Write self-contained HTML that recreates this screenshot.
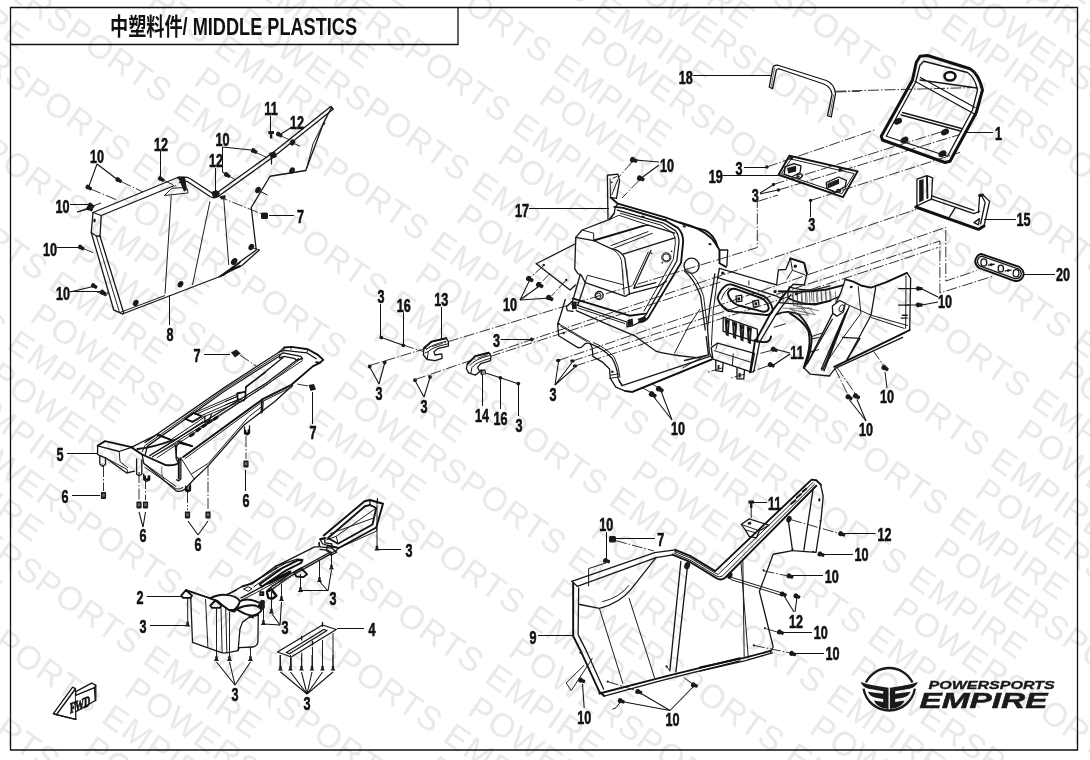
<!DOCTYPE html>
<html lang="zh"><head><meta charset="utf-8"><title>中塑料件/ MIDDLE PLASTICS</title>
<style>
html,body{margin:0;padding:0;background:#fff;}
body{width:1090px;height:760px;overflow:hidden;font-family:"Liberation Sans","Noto Sans CJK SC",sans-serif;}
svg{display:block;filter:grayscale(1)}
path,line,polyline,rect,ellipse,circle{vector-effect:non-scaling-stroke}
.o{fill:none;stroke:#151515;stroke-width:1.3;stroke-linejoin:round;stroke-linecap:round}
.of{fill:#fff;stroke:#151515;stroke-width:1.3;stroke-linejoin:round}
.k{fill:none;stroke:#111;stroke-width:1.9;stroke-linejoin:round;stroke-linecap:round}
.k3{fill:none;stroke:#111;stroke-width:3;stroke-linejoin:round;stroke-linecap:round}
.t{fill:none;stroke:#1c1c1c;stroke-width:1.0;stroke-linejoin:round}
.tt{fill:none;stroke:#3a3a3a;stroke-width:.7}
.c{fill:none;stroke:#1c1c1c;stroke-width:.9;stroke-dasharray:11 2 1.5 2}
.l{fill:none;stroke:#111;stroke-width:1.05}
.b{fill:#1a1a1a;stroke:none}
.f{fill:#1a1a1a;stroke:none}
.g{fill:#777;stroke:none}
.n{font-family:"Liberation Sans",sans-serif;font-weight:700;fill:#111;text-anchor:middle;stroke:#111;stroke-width:.6px}
.wm{font-family:"Liberation Sans",sans-serif;fill:#e9e9e9}
.frame{fill:none;stroke:#111;stroke-width:1.3}
</style></head><body>
<svg width="1090" height="760" viewBox="0 0 1090 760">
<rect width="1090" height="760" fill="#fff"/>
<g class="wm" transform="rotate(34.965)" font-size="33.5">
<text x="-1548.4" y="-905.4" textLength="422.0" lengthAdjust="spacing">POWERSPORTS EMPIRE</text>
<text x="-1249.0" y="-874.4" textLength="422.0" lengthAdjust="spacing">POWERSPORTS EMPIRE</text>
<text x="-964.7" y="-905.4" textLength="422.0" lengthAdjust="spacing">POWERSPORTS EMPIRE</text>
<text x="-666.3" y="-874.4" textLength="422.0" lengthAdjust="spacing">POWERSPORTS EMPIRE</text>
<text x="-381.0" y="-905.4" textLength="422.0" lengthAdjust="spacing">POWERSPORTS EMPIRE</text>
<text x="-83.6" y="-874.4" textLength="422.0" lengthAdjust="spacing">POWERSPORTS EMPIRE</text>
<text x="202.7" y="-905.4" textLength="422.0" lengthAdjust="spacing">POWERSPORTS EMPIRE</text>
<text x="499.1" y="-874.4" textLength="422.0" lengthAdjust="spacing">POWERSPORTS EMPIRE</text>
<text x="786.4" y="-905.4" textLength="422.0" lengthAdjust="spacing">POWERSPORTS EMPIRE</text>
<text x="1081.8" y="-874.4" textLength="422.0" lengthAdjust="spacing">POWERSPORTS EMPIRE</text>
<text x="1370.1" y="-905.4" textLength="422.0" lengthAdjust="spacing">POWERSPORTS EMPIRE</text>
<text x="1664.5" y="-874.4" textLength="422.0" lengthAdjust="spacing">POWERSPORTS EMPIRE</text>
<text x="1953.8" y="-905.4" textLength="422.0" lengthAdjust="spacing">POWERSPORTS EMPIRE</text>
<text x="2247.2" y="-874.4" textLength="422.0" lengthAdjust="spacing">POWERSPORTS EMPIRE</text>
<text x="-1548.2" y="-833.5" textLength="422.0" lengthAdjust="spacing">POWERSPORTS EMPIRE</text>
<text x="-1249.0" y="-802.1" textLength="422.0" lengthAdjust="spacing">POWERSPORTS EMPIRE</text>
<text x="-964.5" y="-833.5" textLength="422.0" lengthAdjust="spacing">POWERSPORTS EMPIRE</text>
<text x="-666.3" y="-802.1" textLength="422.0" lengthAdjust="spacing">POWERSPORTS EMPIRE</text>
<text x="-380.8" y="-833.5" textLength="422.0" lengthAdjust="spacing">POWERSPORTS EMPIRE</text>
<text x="-83.6" y="-802.1" textLength="422.0" lengthAdjust="spacing">POWERSPORTS EMPIRE</text>
<text x="202.9" y="-833.5" textLength="422.0" lengthAdjust="spacing">POWERSPORTS EMPIRE</text>
<text x="499.1" y="-802.1" textLength="422.0" lengthAdjust="spacing">POWERSPORTS EMPIRE</text>
<text x="786.6" y="-833.5" textLength="422.0" lengthAdjust="spacing">POWERSPORTS EMPIRE</text>
<text x="1081.8" y="-802.1" textLength="422.0" lengthAdjust="spacing">POWERSPORTS EMPIRE</text>
<text x="1370.3" y="-833.5" textLength="422.0" lengthAdjust="spacing">POWERSPORTS EMPIRE</text>
<text x="1664.5" y="-802.1" textLength="422.0" lengthAdjust="spacing">POWERSPORTS EMPIRE</text>
<text x="1954.0" y="-833.5" textLength="422.0" lengthAdjust="spacing">POWERSPORTS EMPIRE</text>
<text x="2247.2" y="-802.1" textLength="422.0" lengthAdjust="spacing">POWERSPORTS EMPIRE</text>
<text x="-1547.9" y="-761.5" textLength="422.0" lengthAdjust="spacing">POWERSPORTS EMPIRE</text>
<text x="-1249.1" y="-729.9" textLength="422.0" lengthAdjust="spacing">POWERSPORTS EMPIRE</text>
<text x="-964.2" y="-761.5" textLength="422.0" lengthAdjust="spacing">POWERSPORTS EMPIRE</text>
<text x="-666.4" y="-729.9" textLength="422.0" lengthAdjust="spacing">POWERSPORTS EMPIRE</text>
<text x="-380.5" y="-761.5" textLength="422.0" lengthAdjust="spacing">POWERSPORTS EMPIRE</text>
<text x="-83.7" y="-729.9" textLength="422.0" lengthAdjust="spacing">POWERSPORTS EMPIRE</text>
<text x="203.2" y="-761.5" textLength="422.0" lengthAdjust="spacing">POWERSPORTS EMPIRE</text>
<text x="499.0" y="-729.9" textLength="422.0" lengthAdjust="spacing">POWERSPORTS EMPIRE</text>
<text x="786.9" y="-761.5" textLength="422.0" lengthAdjust="spacing">POWERSPORTS EMPIRE</text>
<text x="1081.7" y="-729.9" textLength="422.0" lengthAdjust="spacing">POWERSPORTS EMPIRE</text>
<text x="1370.6" y="-761.5" textLength="422.0" lengthAdjust="spacing">POWERSPORTS EMPIRE</text>
<text x="1664.4" y="-729.9" textLength="422.0" lengthAdjust="spacing">POWERSPORTS EMPIRE</text>
<text x="1954.3" y="-761.5" textLength="422.0" lengthAdjust="spacing">POWERSPORTS EMPIRE</text>
<text x="2247.1" y="-729.9" textLength="422.0" lengthAdjust="spacing">POWERSPORTS EMPIRE</text>
<text x="-1547.7" y="-689.5" textLength="422.0" lengthAdjust="spacing">POWERSPORTS EMPIRE</text>
<text x="-1249.1" y="-657.6" textLength="422.0" lengthAdjust="spacing">POWERSPORTS EMPIRE</text>
<text x="-964.0" y="-689.5" textLength="422.0" lengthAdjust="spacing">POWERSPORTS EMPIRE</text>
<text x="-666.4" y="-657.6" textLength="422.0" lengthAdjust="spacing">POWERSPORTS EMPIRE</text>
<text x="-380.3" y="-689.5" textLength="422.0" lengthAdjust="spacing">POWERSPORTS EMPIRE</text>
<text x="-83.7" y="-657.6" textLength="422.0" lengthAdjust="spacing">POWERSPORTS EMPIRE</text>
<text x="203.4" y="-689.5" textLength="422.0" lengthAdjust="spacing">POWERSPORTS EMPIRE</text>
<text x="499.0" y="-657.6" textLength="422.0" lengthAdjust="spacing">POWERSPORTS EMPIRE</text>
<text x="787.1" y="-689.5" textLength="422.0" lengthAdjust="spacing">POWERSPORTS EMPIRE</text>
<text x="1081.7" y="-657.6" textLength="422.0" lengthAdjust="spacing">POWERSPORTS EMPIRE</text>
<text x="1370.8" y="-689.5" textLength="422.0" lengthAdjust="spacing">POWERSPORTS EMPIRE</text>
<text x="1664.4" y="-657.6" textLength="422.0" lengthAdjust="spacing">POWERSPORTS EMPIRE</text>
<text x="1954.5" y="-689.5" textLength="422.0" lengthAdjust="spacing">POWERSPORTS EMPIRE</text>
<text x="2247.1" y="-657.6" textLength="422.0" lengthAdjust="spacing">POWERSPORTS EMPIRE</text>
<text x="-1547.4" y="-617.5" textLength="422.0" lengthAdjust="spacing">POWERSPORTS EMPIRE</text>
<text x="-1249.1" y="-585.4" textLength="422.0" lengthAdjust="spacing">POWERSPORTS EMPIRE</text>
<text x="-963.7" y="-617.5" textLength="422.0" lengthAdjust="spacing">POWERSPORTS EMPIRE</text>
<text x="-666.4" y="-585.4" textLength="422.0" lengthAdjust="spacing">POWERSPORTS EMPIRE</text>
<text x="-380.0" y="-617.5" textLength="422.0" lengthAdjust="spacing">POWERSPORTS EMPIRE</text>
<text x="-83.7" y="-585.4" textLength="422.0" lengthAdjust="spacing">POWERSPORTS EMPIRE</text>
<text x="203.7" y="-617.5" textLength="422.0" lengthAdjust="spacing">POWERSPORTS EMPIRE</text>
<text x="499.0" y="-585.4" textLength="422.0" lengthAdjust="spacing">POWERSPORTS EMPIRE</text>
<text x="787.4" y="-617.5" textLength="422.0" lengthAdjust="spacing">POWERSPORTS EMPIRE</text>
<text x="1081.7" y="-585.4" textLength="422.0" lengthAdjust="spacing">POWERSPORTS EMPIRE</text>
<text x="1371.1" y="-617.5" textLength="422.0" lengthAdjust="spacing">POWERSPORTS EMPIRE</text>
<text x="1664.4" y="-585.4" textLength="422.0" lengthAdjust="spacing">POWERSPORTS EMPIRE</text>
<text x="1954.8" y="-617.5" textLength="422.0" lengthAdjust="spacing">POWERSPORTS EMPIRE</text>
<text x="2247.1" y="-585.4" textLength="422.0" lengthAdjust="spacing">POWERSPORTS EMPIRE</text>
<text x="-1547.1" y="-545.6" textLength="422.0" lengthAdjust="spacing">POWERSPORTS EMPIRE</text>
<text x="-1249.1" y="-513.1" textLength="422.0" lengthAdjust="spacing">POWERSPORTS EMPIRE</text>
<text x="-963.4" y="-545.6" textLength="422.0" lengthAdjust="spacing">POWERSPORTS EMPIRE</text>
<text x="-666.4" y="-513.1" textLength="422.0" lengthAdjust="spacing">POWERSPORTS EMPIRE</text>
<text x="-379.7" y="-545.6" textLength="422.0" lengthAdjust="spacing">POWERSPORTS EMPIRE</text>
<text x="-83.7" y="-513.1" textLength="422.0" lengthAdjust="spacing">POWERSPORTS EMPIRE</text>
<text x="204.0" y="-545.6" textLength="422.0" lengthAdjust="spacing">POWERSPORTS EMPIRE</text>
<text x="499.0" y="-513.1" textLength="422.0" lengthAdjust="spacing">POWERSPORTS EMPIRE</text>
<text x="787.7" y="-545.6" textLength="422.0" lengthAdjust="spacing">POWERSPORTS EMPIRE</text>
<text x="1081.7" y="-513.1" textLength="422.0" lengthAdjust="spacing">POWERSPORTS EMPIRE</text>
<text x="1371.4" y="-545.6" textLength="422.0" lengthAdjust="spacing">POWERSPORTS EMPIRE</text>
<text x="1664.4" y="-513.1" textLength="422.0" lengthAdjust="spacing">POWERSPORTS EMPIRE</text>
<text x="1955.1" y="-545.6" textLength="422.0" lengthAdjust="spacing">POWERSPORTS EMPIRE</text>
<text x="2247.1" y="-513.1" textLength="422.0" lengthAdjust="spacing">POWERSPORTS EMPIRE</text>
<text x="-1546.9" y="-473.6" textLength="422.0" lengthAdjust="spacing">POWERSPORTS EMPIRE</text>
<text x="-1249.1" y="-440.9" textLength="422.0" lengthAdjust="spacing">POWERSPORTS EMPIRE</text>
<text x="-963.2" y="-473.6" textLength="422.0" lengthAdjust="spacing">POWERSPORTS EMPIRE</text>
<text x="-666.4" y="-440.9" textLength="422.0" lengthAdjust="spacing">POWERSPORTS EMPIRE</text>
<text x="-379.5" y="-473.6" textLength="422.0" lengthAdjust="spacing">POWERSPORTS EMPIRE</text>
<text x="-83.7" y="-440.9" textLength="422.0" lengthAdjust="spacing">POWERSPORTS EMPIRE</text>
<text x="204.2" y="-473.6" textLength="422.0" lengthAdjust="spacing">POWERSPORTS EMPIRE</text>
<text x="499.0" y="-440.9" textLength="422.0" lengthAdjust="spacing">POWERSPORTS EMPIRE</text>
<text x="787.9" y="-473.6" textLength="422.0" lengthAdjust="spacing">POWERSPORTS EMPIRE</text>
<text x="1081.7" y="-440.9" textLength="422.0" lengthAdjust="spacing">POWERSPORTS EMPIRE</text>
<text x="1371.6" y="-473.6" textLength="422.0" lengthAdjust="spacing">POWERSPORTS EMPIRE</text>
<text x="1664.4" y="-440.9" textLength="422.0" lengthAdjust="spacing">POWERSPORTS EMPIRE</text>
<text x="1955.3" y="-473.6" textLength="422.0" lengthAdjust="spacing">POWERSPORTS EMPIRE</text>
<text x="2247.1" y="-440.9" textLength="422.0" lengthAdjust="spacing">POWERSPORTS EMPIRE</text>
<text x="-1546.6" y="-401.6" textLength="422.0" lengthAdjust="spacing">POWERSPORTS EMPIRE</text>
<text x="-1249.2" y="-368.6" textLength="422.0" lengthAdjust="spacing">POWERSPORTS EMPIRE</text>
<text x="-962.9" y="-401.6" textLength="422.0" lengthAdjust="spacing">POWERSPORTS EMPIRE</text>
<text x="-666.5" y="-368.6" textLength="422.0" lengthAdjust="spacing">POWERSPORTS EMPIRE</text>
<text x="-379.2" y="-401.6" textLength="422.0" lengthAdjust="spacing">POWERSPORTS EMPIRE</text>
<text x="-83.8" y="-368.6" textLength="422.0" lengthAdjust="spacing">POWERSPORTS EMPIRE</text>
<text x="204.5" y="-401.6" textLength="422.0" lengthAdjust="spacing">POWERSPORTS EMPIRE</text>
<text x="498.9" y="-368.6" textLength="422.0" lengthAdjust="spacing">POWERSPORTS EMPIRE</text>
<text x="788.2" y="-401.6" textLength="422.0" lengthAdjust="spacing">POWERSPORTS EMPIRE</text>
<text x="1081.6" y="-368.6" textLength="422.0" lengthAdjust="spacing">POWERSPORTS EMPIRE</text>
<text x="1371.9" y="-401.6" textLength="422.0" lengthAdjust="spacing">POWERSPORTS EMPIRE</text>
<text x="1664.3" y="-368.6" textLength="422.0" lengthAdjust="spacing">POWERSPORTS EMPIRE</text>
<text x="1955.6" y="-401.6" textLength="422.0" lengthAdjust="spacing">POWERSPORTS EMPIRE</text>
<text x="2247.0" y="-368.6" textLength="422.0" lengthAdjust="spacing">POWERSPORTS EMPIRE</text>
<text x="-1546.4" y="-329.7" textLength="422.0" lengthAdjust="spacing">POWERSPORTS EMPIRE</text>
<text x="-1249.2" y="-296.4" textLength="422.0" lengthAdjust="spacing">POWERSPORTS EMPIRE</text>
<text x="-962.7" y="-329.7" textLength="422.0" lengthAdjust="spacing">POWERSPORTS EMPIRE</text>
<text x="-666.5" y="-296.4" textLength="422.0" lengthAdjust="spacing">POWERSPORTS EMPIRE</text>
<text x="-379.0" y="-329.7" textLength="422.0" lengthAdjust="spacing">POWERSPORTS EMPIRE</text>
<text x="-83.8" y="-296.4" textLength="422.0" lengthAdjust="spacing">POWERSPORTS EMPIRE</text>
<text x="204.7" y="-329.7" textLength="422.0" lengthAdjust="spacing">POWERSPORTS EMPIRE</text>
<text x="498.9" y="-296.4" textLength="422.0" lengthAdjust="spacing">POWERSPORTS EMPIRE</text>
<text x="788.4" y="-329.7" textLength="422.0" lengthAdjust="spacing">POWERSPORTS EMPIRE</text>
<text x="1081.6" y="-296.4" textLength="422.0" lengthAdjust="spacing">POWERSPORTS EMPIRE</text>
<text x="1372.1" y="-329.7" textLength="422.0" lengthAdjust="spacing">POWERSPORTS EMPIRE</text>
<text x="1664.3" y="-296.4" textLength="422.0" lengthAdjust="spacing">POWERSPORTS EMPIRE</text>
<text x="1955.8" y="-329.7" textLength="422.0" lengthAdjust="spacing">POWERSPORTS EMPIRE</text>
<text x="2247.0" y="-296.4" textLength="422.0" lengthAdjust="spacing">POWERSPORTS EMPIRE</text>
<text x="-1546.1" y="-257.7" textLength="422.0" lengthAdjust="spacing">POWERSPORTS EMPIRE</text>
<text x="-1249.2" y="-224.1" textLength="422.0" lengthAdjust="spacing">POWERSPORTS EMPIRE</text>
<text x="-962.4" y="-257.7" textLength="422.0" lengthAdjust="spacing">POWERSPORTS EMPIRE</text>
<text x="-666.5" y="-224.1" textLength="422.0" lengthAdjust="spacing">POWERSPORTS EMPIRE</text>
<text x="-378.7" y="-257.7" textLength="422.0" lengthAdjust="spacing">POWERSPORTS EMPIRE</text>
<text x="-83.8" y="-224.1" textLength="422.0" lengthAdjust="spacing">POWERSPORTS EMPIRE</text>
<text x="205.0" y="-257.7" textLength="422.0" lengthAdjust="spacing">POWERSPORTS EMPIRE</text>
<text x="498.9" y="-224.1" textLength="422.0" lengthAdjust="spacing">POWERSPORTS EMPIRE</text>
<text x="788.7" y="-257.7" textLength="422.0" lengthAdjust="spacing">POWERSPORTS EMPIRE</text>
<text x="1081.6" y="-224.1" textLength="422.0" lengthAdjust="spacing">POWERSPORTS EMPIRE</text>
<text x="1372.4" y="-257.7" textLength="422.0" lengthAdjust="spacing">POWERSPORTS EMPIRE</text>
<text x="1664.3" y="-224.1" textLength="422.0" lengthAdjust="spacing">POWERSPORTS EMPIRE</text>
<text x="1956.1" y="-257.7" textLength="422.0" lengthAdjust="spacing">POWERSPORTS EMPIRE</text>
<text x="2247.0" y="-224.1" textLength="422.0" lengthAdjust="spacing">POWERSPORTS EMPIRE</text>
<text x="-1545.8" y="-185.7" textLength="422.0" lengthAdjust="spacing">POWERSPORTS EMPIRE</text>
<text x="-1249.2" y="-151.8" textLength="422.0" lengthAdjust="spacing">POWERSPORTS EMPIRE</text>
<text x="-962.1" y="-185.7" textLength="422.0" lengthAdjust="spacing">POWERSPORTS EMPIRE</text>
<text x="-666.5" y="-151.8" textLength="422.0" lengthAdjust="spacing">POWERSPORTS EMPIRE</text>
<text x="-378.4" y="-185.7" textLength="422.0" lengthAdjust="spacing">POWERSPORTS EMPIRE</text>
<text x="-83.8" y="-151.8" textLength="422.0" lengthAdjust="spacing">POWERSPORTS EMPIRE</text>
<text x="205.3" y="-185.7" textLength="422.0" lengthAdjust="spacing">POWERSPORTS EMPIRE</text>
<text x="498.9" y="-151.8" textLength="422.0" lengthAdjust="spacing">POWERSPORTS EMPIRE</text>
<text x="789.0" y="-185.7" textLength="422.0" lengthAdjust="spacing">POWERSPORTS EMPIRE</text>
<text x="1081.6" y="-151.8" textLength="422.0" lengthAdjust="spacing">POWERSPORTS EMPIRE</text>
<text x="1372.7" y="-185.7" textLength="422.0" lengthAdjust="spacing">POWERSPORTS EMPIRE</text>
<text x="1664.3" y="-151.8" textLength="422.0" lengthAdjust="spacing">POWERSPORTS EMPIRE</text>
<text x="1956.4" y="-185.7" textLength="422.0" lengthAdjust="spacing">POWERSPORTS EMPIRE</text>
<text x="2247.0" y="-151.8" textLength="422.0" lengthAdjust="spacing">POWERSPORTS EMPIRE</text>
<text x="-1545.6" y="-113.8" textLength="422.0" lengthAdjust="spacing">POWERSPORTS EMPIRE</text>
<text x="-1249.2" y="-79.6" textLength="422.0" lengthAdjust="spacing">POWERSPORTS EMPIRE</text>
<text x="-961.9" y="-113.8" textLength="422.0" lengthAdjust="spacing">POWERSPORTS EMPIRE</text>
<text x="-666.5" y="-79.6" textLength="422.0" lengthAdjust="spacing">POWERSPORTS EMPIRE</text>
<text x="-378.2" y="-113.8" textLength="422.0" lengthAdjust="spacing">POWERSPORTS EMPIRE</text>
<text x="-83.8" y="-79.6" textLength="422.0" lengthAdjust="spacing">POWERSPORTS EMPIRE</text>
<text x="205.5" y="-113.8" textLength="422.0" lengthAdjust="spacing">POWERSPORTS EMPIRE</text>
<text x="498.9" y="-79.6" textLength="422.0" lengthAdjust="spacing">POWERSPORTS EMPIRE</text>
<text x="789.2" y="-113.8" textLength="422.0" lengthAdjust="spacing">POWERSPORTS EMPIRE</text>
<text x="1081.6" y="-79.6" textLength="422.0" lengthAdjust="spacing">POWERSPORTS EMPIRE</text>
<text x="1372.9" y="-113.8" textLength="422.0" lengthAdjust="spacing">POWERSPORTS EMPIRE</text>
<text x="1664.3" y="-79.6" textLength="422.0" lengthAdjust="spacing">POWERSPORTS EMPIRE</text>
<text x="1956.6" y="-113.8" textLength="422.0" lengthAdjust="spacing">POWERSPORTS EMPIRE</text>
<text x="2247.0" y="-79.6" textLength="422.0" lengthAdjust="spacing">POWERSPORTS EMPIRE</text>
<text x="-1545.3" y="-41.8" textLength="422.0" lengthAdjust="spacing">POWERSPORTS EMPIRE</text>
<text x="-1249.3" y="-7.3" textLength="422.0" lengthAdjust="spacing">POWERSPORTS EMPIRE</text>
<text x="-961.6" y="-41.8" textLength="422.0" lengthAdjust="spacing">POWERSPORTS EMPIRE</text>
<text x="-666.6" y="-7.3" textLength="422.0" lengthAdjust="spacing">POWERSPORTS EMPIRE</text>
<text x="-377.9" y="-41.8" textLength="422.0" lengthAdjust="spacing">POWERSPORTS EMPIRE</text>
<text x="-83.9" y="-7.3" textLength="422.0" lengthAdjust="spacing">POWERSPORTS EMPIRE</text>
<text x="205.8" y="-41.8" textLength="422.0" lengthAdjust="spacing">POWERSPORTS EMPIRE</text>
<text x="498.8" y="-7.3" textLength="422.0" lengthAdjust="spacing">POWERSPORTS EMPIRE</text>
<text x="789.5" y="-41.8" textLength="422.0" lengthAdjust="spacing">POWERSPORTS EMPIRE</text>
<text x="1081.5" y="-7.3" textLength="422.0" lengthAdjust="spacing">POWERSPORTS EMPIRE</text>
<text x="1373.2" y="-41.8" textLength="422.0" lengthAdjust="spacing">POWERSPORTS EMPIRE</text>
<text x="1664.2" y="-7.3" textLength="422.0" lengthAdjust="spacing">POWERSPORTS EMPIRE</text>
<text x="1956.9" y="-41.8" textLength="422.0" lengthAdjust="spacing">POWERSPORTS EMPIRE</text>
<text x="2246.9" y="-7.3" textLength="422.0" lengthAdjust="spacing">POWERSPORTS EMPIRE</text>
<text x="-1545.1" y="30.2" textLength="422.0" lengthAdjust="spacing">POWERSPORTS EMPIRE</text>
<text x="-1249.3" y="64.9" textLength="422.0" lengthAdjust="spacing">POWERSPORTS EMPIRE</text>
<text x="-961.4" y="30.2" textLength="422.0" lengthAdjust="spacing">POWERSPORTS EMPIRE</text>
<text x="-666.6" y="64.9" textLength="422.0" lengthAdjust="spacing">POWERSPORTS EMPIRE</text>
<text x="-377.7" y="30.2" textLength="422.0" lengthAdjust="spacing">POWERSPORTS EMPIRE</text>
<text x="-83.9" y="64.9" textLength="422.0" lengthAdjust="spacing">POWERSPORTS EMPIRE</text>
<text x="206.0" y="30.2" textLength="422.0" lengthAdjust="spacing">POWERSPORTS EMPIRE</text>
<text x="498.8" y="64.9" textLength="422.0" lengthAdjust="spacing">POWERSPORTS EMPIRE</text>
<text x="789.7" y="30.2" textLength="422.0" lengthAdjust="spacing">POWERSPORTS EMPIRE</text>
<text x="1081.5" y="64.9" textLength="422.0" lengthAdjust="spacing">POWERSPORTS EMPIRE</text>
<text x="1373.4" y="30.2" textLength="422.0" lengthAdjust="spacing">POWERSPORTS EMPIRE</text>
<text x="1664.2" y="64.9" textLength="422.0" lengthAdjust="spacing">POWERSPORTS EMPIRE</text>
<text x="1957.1" y="30.2" textLength="422.0" lengthAdjust="spacing">POWERSPORTS EMPIRE</text>
<text x="2246.9" y="64.9" textLength="422.0" lengthAdjust="spacing">POWERSPORTS EMPIRE</text>
<text x="-1544.8" y="102.2" textLength="422.0" lengthAdjust="spacing">POWERSPORTS EMPIRE</text>
<text x="-1249.3" y="137.2" textLength="422.0" lengthAdjust="spacing">POWERSPORTS EMPIRE</text>
<text x="-961.1" y="102.2" textLength="422.0" lengthAdjust="spacing">POWERSPORTS EMPIRE</text>
<text x="-666.6" y="137.2" textLength="422.0" lengthAdjust="spacing">POWERSPORTS EMPIRE</text>
<text x="-377.4" y="102.2" textLength="422.0" lengthAdjust="spacing">POWERSPORTS EMPIRE</text>
<text x="-83.9" y="137.2" textLength="422.0" lengthAdjust="spacing">POWERSPORTS EMPIRE</text>
<text x="206.3" y="102.2" textLength="422.0" lengthAdjust="spacing">POWERSPORTS EMPIRE</text>
<text x="498.8" y="137.2" textLength="422.0" lengthAdjust="spacing">POWERSPORTS EMPIRE</text>
<text x="790.0" y="102.2" textLength="422.0" lengthAdjust="spacing">POWERSPORTS EMPIRE</text>
<text x="1081.5" y="137.2" textLength="422.0" lengthAdjust="spacing">POWERSPORTS EMPIRE</text>
<text x="1373.7" y="102.2" textLength="422.0" lengthAdjust="spacing">POWERSPORTS EMPIRE</text>
<text x="1664.2" y="137.2" textLength="422.0" lengthAdjust="spacing">POWERSPORTS EMPIRE</text>
<text x="1957.4" y="102.2" textLength="422.0" lengthAdjust="spacing">POWERSPORTS EMPIRE</text>
<text x="2246.9" y="137.2" textLength="422.0" lengthAdjust="spacing">POWERSPORTS EMPIRE</text>
<text x="-1544.5" y="174.1" textLength="422.0" lengthAdjust="spacing">POWERSPORTS EMPIRE</text>
<text x="-1249.3" y="209.4" textLength="422.0" lengthAdjust="spacing">POWERSPORTS EMPIRE</text>
<text x="-960.8" y="174.1" textLength="422.0" lengthAdjust="spacing">POWERSPORTS EMPIRE</text>
<text x="-666.6" y="209.4" textLength="422.0" lengthAdjust="spacing">POWERSPORTS EMPIRE</text>
<text x="-377.1" y="174.1" textLength="422.0" lengthAdjust="spacing">POWERSPORTS EMPIRE</text>
<text x="-83.9" y="209.4" textLength="422.0" lengthAdjust="spacing">POWERSPORTS EMPIRE</text>
<text x="206.6" y="174.1" textLength="422.0" lengthAdjust="spacing">POWERSPORTS EMPIRE</text>
<text x="498.8" y="209.4" textLength="422.0" lengthAdjust="spacing">POWERSPORTS EMPIRE</text>
<text x="790.3" y="174.1" textLength="422.0" lengthAdjust="spacing">POWERSPORTS EMPIRE</text>
<text x="1081.5" y="209.4" textLength="422.0" lengthAdjust="spacing">POWERSPORTS EMPIRE</text>
<text x="1374.0" y="174.1" textLength="422.0" lengthAdjust="spacing">POWERSPORTS EMPIRE</text>
<text x="1664.2" y="209.4" textLength="422.0" lengthAdjust="spacing">POWERSPORTS EMPIRE</text>
<text x="1957.7" y="174.1" textLength="422.0" lengthAdjust="spacing">POWERSPORTS EMPIRE</text>
<text x="2246.9" y="209.4" textLength="422.0" lengthAdjust="spacing">POWERSPORTS EMPIRE</text>
<text x="-1544.3" y="246.1" textLength="422.0" lengthAdjust="spacing">POWERSPORTS EMPIRE</text>
<text x="-1249.3" y="281.6" textLength="422.0" lengthAdjust="spacing">POWERSPORTS EMPIRE</text>
<text x="-960.6" y="246.1" textLength="422.0" lengthAdjust="spacing">POWERSPORTS EMPIRE</text>
<text x="-666.6" y="281.6" textLength="422.0" lengthAdjust="spacing">POWERSPORTS EMPIRE</text>
<text x="-376.9" y="246.1" textLength="422.0" lengthAdjust="spacing">POWERSPORTS EMPIRE</text>
<text x="-83.9" y="281.6" textLength="422.0" lengthAdjust="spacing">POWERSPORTS EMPIRE</text>
<text x="206.8" y="246.1" textLength="422.0" lengthAdjust="spacing">POWERSPORTS EMPIRE</text>
<text x="498.8" y="281.6" textLength="422.0" lengthAdjust="spacing">POWERSPORTS EMPIRE</text>
<text x="790.5" y="246.1" textLength="422.0" lengthAdjust="spacing">POWERSPORTS EMPIRE</text>
<text x="1081.5" y="281.6" textLength="422.0" lengthAdjust="spacing">POWERSPORTS EMPIRE</text>
<text x="1374.2" y="246.1" textLength="422.0" lengthAdjust="spacing">POWERSPORTS EMPIRE</text>
<text x="1664.2" y="281.6" textLength="422.0" lengthAdjust="spacing">POWERSPORTS EMPIRE</text>
<text x="1957.9" y="246.1" textLength="422.0" lengthAdjust="spacing">POWERSPORTS EMPIRE</text>
<text x="2246.9" y="281.6" textLength="422.0" lengthAdjust="spacing">POWERSPORTS EMPIRE</text>
<text x="-1544.0" y="318.1" textLength="422.0" lengthAdjust="spacing">POWERSPORTS EMPIRE</text>
<text x="-1249.4" y="353.9" textLength="422.0" lengthAdjust="spacing">POWERSPORTS EMPIRE</text>
<text x="-960.3" y="318.1" textLength="422.0" lengthAdjust="spacing">POWERSPORTS EMPIRE</text>
<text x="-666.7" y="353.9" textLength="422.0" lengthAdjust="spacing">POWERSPORTS EMPIRE</text>
<text x="-376.6" y="318.1" textLength="422.0" lengthAdjust="spacing">POWERSPORTS EMPIRE</text>
<text x="-84.0" y="353.9" textLength="422.0" lengthAdjust="spacing">POWERSPORTS EMPIRE</text>
<text x="207.1" y="318.1" textLength="422.0" lengthAdjust="spacing">POWERSPORTS EMPIRE</text>
<text x="498.7" y="353.9" textLength="422.0" lengthAdjust="spacing">POWERSPORTS EMPIRE</text>
<text x="790.8" y="318.1" textLength="422.0" lengthAdjust="spacing">POWERSPORTS EMPIRE</text>
<text x="1081.4" y="353.9" textLength="422.0" lengthAdjust="spacing">POWERSPORTS EMPIRE</text>
<text x="1374.5" y="318.1" textLength="422.0" lengthAdjust="spacing">POWERSPORTS EMPIRE</text>
<text x="1664.1" y="353.9" textLength="422.0" lengthAdjust="spacing">POWERSPORTS EMPIRE</text>
<text x="1958.2" y="318.1" textLength="422.0" lengthAdjust="spacing">POWERSPORTS EMPIRE</text>
<text x="2246.8" y="353.9" textLength="422.0" lengthAdjust="spacing">POWERSPORTS EMPIRE</text>
<text x="-1543.8" y="390.0" textLength="422.0" lengthAdjust="spacing">POWERSPORTS EMPIRE</text>
<text x="-1249.4" y="426.1" textLength="422.0" lengthAdjust="spacing">POWERSPORTS EMPIRE</text>
<text x="-960.1" y="390.0" textLength="422.0" lengthAdjust="spacing">POWERSPORTS EMPIRE</text>
<text x="-666.7" y="426.1" textLength="422.0" lengthAdjust="spacing">POWERSPORTS EMPIRE</text>
<text x="-376.4" y="390.0" textLength="422.0" lengthAdjust="spacing">POWERSPORTS EMPIRE</text>
<text x="-84.0" y="426.1" textLength="422.0" lengthAdjust="spacing">POWERSPORTS EMPIRE</text>
<text x="207.3" y="390.0" textLength="422.0" lengthAdjust="spacing">POWERSPORTS EMPIRE</text>
<text x="498.7" y="426.1" textLength="422.0" lengthAdjust="spacing">POWERSPORTS EMPIRE</text>
<text x="791.0" y="390.0" textLength="422.0" lengthAdjust="spacing">POWERSPORTS EMPIRE</text>
<text x="1081.4" y="426.1" textLength="422.0" lengthAdjust="spacing">POWERSPORTS EMPIRE</text>
<text x="1374.7" y="390.0" textLength="422.0" lengthAdjust="spacing">POWERSPORTS EMPIRE</text>
<text x="1664.1" y="426.1" textLength="422.0" lengthAdjust="spacing">POWERSPORTS EMPIRE</text>
<text x="1958.4" y="390.0" textLength="422.0" lengthAdjust="spacing">POWERSPORTS EMPIRE</text>
<text x="2246.8" y="426.1" textLength="422.0" lengthAdjust="spacing">POWERSPORTS EMPIRE</text>
<text x="-1543.5" y="462.0" textLength="422.0" lengthAdjust="spacing">POWERSPORTS EMPIRE</text>
<text x="-1249.4" y="498.4" textLength="422.0" lengthAdjust="spacing">POWERSPORTS EMPIRE</text>
<text x="-959.8" y="462.0" textLength="422.0" lengthAdjust="spacing">POWERSPORTS EMPIRE</text>
<text x="-666.7" y="498.4" textLength="422.0" lengthAdjust="spacing">POWERSPORTS EMPIRE</text>
<text x="-376.1" y="462.0" textLength="422.0" lengthAdjust="spacing">POWERSPORTS EMPIRE</text>
<text x="-84.0" y="498.4" textLength="422.0" lengthAdjust="spacing">POWERSPORTS EMPIRE</text>
<text x="207.6" y="462.0" textLength="422.0" lengthAdjust="spacing">POWERSPORTS EMPIRE</text>
<text x="498.7" y="498.4" textLength="422.0" lengthAdjust="spacing">POWERSPORTS EMPIRE</text>
<text x="791.3" y="462.0" textLength="422.0" lengthAdjust="spacing">POWERSPORTS EMPIRE</text>
<text x="1081.4" y="498.4" textLength="422.0" lengthAdjust="spacing">POWERSPORTS EMPIRE</text>
<text x="1375.0" y="462.0" textLength="422.0" lengthAdjust="spacing">POWERSPORTS EMPIRE</text>
<text x="1664.1" y="498.4" textLength="422.0" lengthAdjust="spacing">POWERSPORTS EMPIRE</text>
<text x="1958.7" y="462.0" textLength="422.0" lengthAdjust="spacing">POWERSPORTS EMPIRE</text>
<text x="2246.8" y="498.4" textLength="422.0" lengthAdjust="spacing">POWERSPORTS EMPIRE</text>
<text x="-1543.2" y="534.0" textLength="422.0" lengthAdjust="spacing">POWERSPORTS EMPIRE</text>
<text x="-1249.4" y="570.6" textLength="422.0" lengthAdjust="spacing">POWERSPORTS EMPIRE</text>
<text x="-959.5" y="534.0" textLength="422.0" lengthAdjust="spacing">POWERSPORTS EMPIRE</text>
<text x="-666.7" y="570.6" textLength="422.0" lengthAdjust="spacing">POWERSPORTS EMPIRE</text>
<text x="-375.8" y="534.0" textLength="422.0" lengthAdjust="spacing">POWERSPORTS EMPIRE</text>
<text x="-84.0" y="570.6" textLength="422.0" lengthAdjust="spacing">POWERSPORTS EMPIRE</text>
<text x="207.9" y="534.0" textLength="422.0" lengthAdjust="spacing">POWERSPORTS EMPIRE</text>
<text x="498.7" y="570.6" textLength="422.0" lengthAdjust="spacing">POWERSPORTS EMPIRE</text>
<text x="791.6" y="534.0" textLength="422.0" lengthAdjust="spacing">POWERSPORTS EMPIRE</text>
<text x="1081.4" y="570.6" textLength="422.0" lengthAdjust="spacing">POWERSPORTS EMPIRE</text>
<text x="1375.3" y="534.0" textLength="422.0" lengthAdjust="spacing">POWERSPORTS EMPIRE</text>
<text x="1664.1" y="570.6" textLength="422.0" lengthAdjust="spacing">POWERSPORTS EMPIRE</text>
<text x="1959.0" y="534.0" textLength="422.0" lengthAdjust="spacing">POWERSPORTS EMPIRE</text>
<text x="2246.8" y="570.6" textLength="422.0" lengthAdjust="spacing">POWERSPORTS EMPIRE</text>
<text x="-1543.0" y="605.9" textLength="422.0" lengthAdjust="spacing">POWERSPORTS EMPIRE</text>
<text x="-1249.4" y="642.9" textLength="422.0" lengthAdjust="spacing">POWERSPORTS EMPIRE</text>
<text x="-959.3" y="605.9" textLength="422.0" lengthAdjust="spacing">POWERSPORTS EMPIRE</text>
<text x="-666.7" y="642.9" textLength="422.0" lengthAdjust="spacing">POWERSPORTS EMPIRE</text>
<text x="-375.6" y="605.9" textLength="422.0" lengthAdjust="spacing">POWERSPORTS EMPIRE</text>
<text x="-84.0" y="642.9" textLength="422.0" lengthAdjust="spacing">POWERSPORTS EMPIRE</text>
<text x="208.1" y="605.9" textLength="422.0" lengthAdjust="spacing">POWERSPORTS EMPIRE</text>
<text x="498.7" y="642.9" textLength="422.0" lengthAdjust="spacing">POWERSPORTS EMPIRE</text>
<text x="791.8" y="605.9" textLength="422.0" lengthAdjust="spacing">POWERSPORTS EMPIRE</text>
<text x="1081.4" y="642.9" textLength="422.0" lengthAdjust="spacing">POWERSPORTS EMPIRE</text>
<text x="1375.5" y="605.9" textLength="422.0" lengthAdjust="spacing">POWERSPORTS EMPIRE</text>
<text x="1664.1" y="642.9" textLength="422.0" lengthAdjust="spacing">POWERSPORTS EMPIRE</text>
<text x="1959.2" y="605.9" textLength="422.0" lengthAdjust="spacing">POWERSPORTS EMPIRE</text>
<text x="2246.8" y="642.9" textLength="422.0" lengthAdjust="spacing">POWERSPORTS EMPIRE</text>
<text x="-1542.7" y="677.9" textLength="422.0" lengthAdjust="spacing">POWERSPORTS EMPIRE</text>
<text x="-1249.5" y="715.1" textLength="422.0" lengthAdjust="spacing">POWERSPORTS EMPIRE</text>
<text x="-959.0" y="677.9" textLength="422.0" lengthAdjust="spacing">POWERSPORTS EMPIRE</text>
<text x="-666.8" y="715.1" textLength="422.0" lengthAdjust="spacing">POWERSPORTS EMPIRE</text>
<text x="-375.3" y="677.9" textLength="422.0" lengthAdjust="spacing">POWERSPORTS EMPIRE</text>
<text x="-84.1" y="715.1" textLength="422.0" lengthAdjust="spacing">POWERSPORTS EMPIRE</text>
<text x="208.4" y="677.9" textLength="422.0" lengthAdjust="spacing">POWERSPORTS EMPIRE</text>
<text x="498.6" y="715.1" textLength="422.0" lengthAdjust="spacing">POWERSPORTS EMPIRE</text>
<text x="792.1" y="677.9" textLength="422.0" lengthAdjust="spacing">POWERSPORTS EMPIRE</text>
<text x="1081.3" y="715.1" textLength="422.0" lengthAdjust="spacing">POWERSPORTS EMPIRE</text>
<text x="1375.8" y="677.9" textLength="422.0" lengthAdjust="spacing">POWERSPORTS EMPIRE</text>
<text x="1664.0" y="715.1" textLength="422.0" lengthAdjust="spacing">POWERSPORTS EMPIRE</text>
<text x="1959.5" y="677.9" textLength="422.0" lengthAdjust="spacing">POWERSPORTS EMPIRE</text>
<text x="2246.7" y="715.1" textLength="422.0" lengthAdjust="spacing">POWERSPORTS EMPIRE</text>
<text x="-1542.5" y="749.9" textLength="422.0" lengthAdjust="spacing">POWERSPORTS EMPIRE</text>
<text x="-1249.5" y="787.4" textLength="422.0" lengthAdjust="spacing">POWERSPORTS EMPIRE</text>
<text x="-958.8" y="749.9" textLength="422.0" lengthAdjust="spacing">POWERSPORTS EMPIRE</text>
<text x="-666.8" y="787.4" textLength="422.0" lengthAdjust="spacing">POWERSPORTS EMPIRE</text>
<text x="-375.1" y="749.9" textLength="422.0" lengthAdjust="spacing">POWERSPORTS EMPIRE</text>
<text x="-84.1" y="787.4" textLength="422.0" lengthAdjust="spacing">POWERSPORTS EMPIRE</text>
<text x="208.6" y="749.9" textLength="422.0" lengthAdjust="spacing">POWERSPORTS EMPIRE</text>
<text x="498.6" y="787.4" textLength="422.0" lengthAdjust="spacing">POWERSPORTS EMPIRE</text>
<text x="792.3" y="749.9" textLength="422.0" lengthAdjust="spacing">POWERSPORTS EMPIRE</text>
<text x="1081.3" y="787.4" textLength="422.0" lengthAdjust="spacing">POWERSPORTS EMPIRE</text>
<text x="1376.0" y="749.9" textLength="422.0" lengthAdjust="spacing">POWERSPORTS EMPIRE</text>
<text x="1664.0" y="787.4" textLength="422.0" lengthAdjust="spacing">POWERSPORTS EMPIRE</text>
<text x="1959.7" y="749.9" textLength="422.0" lengthAdjust="spacing">POWERSPORTS EMPIRE</text>
<text x="2246.7" y="787.4" textLength="422.0" lengthAdjust="spacing">POWERSPORTS EMPIRE</text>
</g>
<g opacity="0.996">
<path class="frame" d="M10.5 7.5H1077.5V750H10.5Z M10.5 44.5H458V7.5"/>
<text x="0" y="0" font-size="24" font-weight="700" fill="#111" style="font-family:'Liberation Sans','Noto Sans CJK SC',sans-serif" transform="translate(110 35) scale(.757 1)">中塑料件/ MIDDLE PLASTICS</text>
<g transform="translate(40 140) scale(0.25000)">
<path class="o" d="M212 290 L555 148 L575 150"/>
<path class="o" d="M245 302 L535 183"/>
<path class="o" d="M212 290 L245 302 L240 385"/>
<path class="o" d="M212 290 L205 370 L225 384 L240 385"/>
<path class="o" d="M205 370 L295 680 L330 696"/>
<path class="t" d="M225 384 L318 690"/>
<path class="o" d="M240 385 L335 692"/>
<path class="t" d="M295 680 L318 690 L330 696"/>
<path class="o" d="M330 696 L735 540"/>
<path class="t" d="M320 690 L500 622"/>
<path class="t" d="M525 222 L500 615"/>
<path class="t" d="M680 245 L610 580"/>
<path class="t" d="M735 235 L755 500"/>
<path class="t" d="M497 222 L528 193 L585 190 M497 222 L592 212 L590 195"/>
<ellipse class="b" cx="218" cy="322" rx="5" ry="8"/>
<ellipse class="b" cx="383" cy="652" rx="10.4" ry="13.75" transform="rotate(30 383 652)"/>
<ellipse class="b" cx="562" cy="577" rx="10.4" ry="13.75" transform="rotate(30 562 577)"/>
<ellipse class="b" cx="775" cy="487" rx="10.4" ry="13.75" transform="rotate(30 775 487)"/>
<path class="o" d="M735 540 L800 490"/>
<path class="k" d="M722 545 L760 520 L800 505"/>
</g>
<g transform="translate(160 90) scale(0.25000)">
<path class="o" d="M72 354 Q100 343 118 353 L205 410 Q218 420 232 408 L452 250 L683 66"/>
<path class="o" d="M78 370 Q100 360 114 369 L200 426 Q220 438 238 422 L457 265 L692 77"/>
<path class="k" d="M685 68 L690 75"/>
<path class="f" d="M72 350 L100 348 L108 400 L96 406 Z"/>
<path class="f" d="M436 252 L460 245 L468 268 L444 276 Z"/>
<path class="o" d="M446 276 L446 296"/>
<path class="o" d="M685 72 L655 130 L583 322"/>
<path class="t" d="M668 105 L612 215 L586 316"/>
<path class="o" d="M583 322 L440 345 L365 470 L385 640 L240 745"/>
<path class="t" d="M655 130 L662 132"/>
<ellipse class="b" cx="655" cy="135" rx="4" ry="6"/>
<ellipse class="b" cx="530" cy="210" rx="10.4" ry="12.5" transform="rotate(30 530 210)"/>
<ellipse class="b" cx="528" cy="322" rx="10.4" ry="13.75" transform="rotate(30 528 322)"/>
<ellipse class="b" cx="392" cy="400" rx="10.4" ry="13.75" transform="rotate(30 392 400)"/>
<ellipse class="b" cx="365" cy="628" rx="10.4" ry="13.75" transform="rotate(30 365 628)"/>
<ellipse class="b" cx="298" cy="685" rx="10.4" ry="13.75" transform="rotate(30 298 685)"/>
<path class="t" d="M538 215 L560 225 M400 405 L430 420 M372 632 L400 640"/>
<path class="o" d="M236 748 L330 700 L395 642"/>
<path class="f" d="M205 408 L225 400 L240 412 L232 428 L212 430 Z"/>
<path class="f" d="M240 425 L262 420 L262 435 L244 438 Z"/>
</g>
<text class="n" transform="translate(97 163.06) scale(0.677 1)" font-size="18.6">10</text>
<text class="n" transform="translate(62.5 212.76) scale(0.677 1)" font-size="18.6">10</text>
<text class="n" transform="translate(50 255.76) scale(0.677 1)" font-size="18.6">10</text>
<text class="n" transform="translate(63 299.56) scale(0.677 1)" font-size="18.6">10</text>
<text class="n" transform="translate(161 150.56) scale(0.677 1)" font-size="18.6">12</text>
<text class="n" transform="translate(216 167.06) scale(0.677 1)" font-size="18.6">12</text>
<text class="n" transform="translate(222.5 146.06) scale(0.677 1)" font-size="18.6">10</text>
<text class="n" transform="translate(271 114.56) scale(0.677 1)" font-size="18.6">11</text>
<text class="n" transform="translate(297 128.56) scale(0.677 1)" font-size="18.6">12</text>
<text class="n" transform="translate(300.5 223.06) scale(0.677 1)" font-size="18.6">7</text>
<text class="n" transform="translate(170 340.56) scale(0.677 1)" font-size="18.6">8</text>
<path class="l" d="M97 164 L89 186"/>
<path class="l" d="M97 164 L118 180"/>
<path class="l" d="M70 204.5 L90 204.5"/>
<path class="l" d="M77 212 L91 208.5"/>
<path class="l" d="M57 247.5 L80 247.5"/>
<path class="l" d="M70 292 L93 286.5"/>
<path class="l" d="M70 291.5 L102 291.5"/>
<path class="l" d="M160.5 151 L160.5 177"/>
<path class="l" d="M215.5 168 L215.5 192"/>
<path class="l" d="M222.5 147 L222.5 172"/>
<path class="l" d="M222.5 147 L251 150"/>
<path class="l" d="M222.5 172 L226 174"/>
<path class="l" d="M270.5 115.5 L270.5 131"/>
<path class="l" d="M292 127 L281 134"/>
<path class="l" d="M294 215.5 L269 215.5"/>
<path class="l" d="M169.5 295 L169.5 325"/>
<g transform="translate(88.5 187.5) rotate(30)"><ellipse class="b" cx="-0.95" cy="0" rx="2.21" ry="2.42"/><rect class="b" x="0" y="-1.68" width="3.57" height="3.36" rx="1.05"/></g>
<g transform="translate(118.5 180) rotate(30)"><ellipse class="b" cx="-0.95" cy="0" rx="2.21" ry="2.42"/><rect class="b" x="0" y="-1.68" width="3.57" height="3.36" rx="1.05"/></g>
<g transform="translate(91 205.5) rotate(30)"><ellipse class="b" cx="-0.95" cy="0" rx="2.21" ry="2.42"/><rect class="b" x="0" y="-1.68" width="3.57" height="3.36" rx="1.05"/></g>
<g transform="translate(89.5 208.5) rotate(30)"><ellipse class="b" cx="-0.95" cy="0" rx="2.21" ry="2.42"/><rect class="b" x="0" y="-1.68" width="3.57" height="3.36" rx="1.05"/></g>
<g transform="translate(81 247.5) rotate(30)"><ellipse class="b" cx="-0.95" cy="0" rx="2.21" ry="2.42"/><rect class="b" x="0" y="-1.68" width="3.57" height="3.36" rx="1.05"/></g>
<g transform="translate(94 286) rotate(30)"><ellipse class="b" cx="-0.95" cy="0" rx="2.21" ry="2.42"/><rect class="b" x="0" y="-1.68" width="3.57" height="3.36" rx="1.05"/></g>
<g transform="translate(103 292.5) rotate(30)"><ellipse class="b" cx="-0.95" cy="0" rx="2.21" ry="2.42"/><rect class="b" x="0" y="-1.68" width="3.57" height="3.36" rx="1.05"/></g>
<g transform="translate(161 179) rotate(30)"><ellipse class="b" cx="-0.95" cy="0" rx="2.21" ry="2.42"/><rect class="b" x="0" y="-1.68" width="3.57" height="3.36" rx="1.05"/></g>
<g transform="translate(254 151) rotate(30)"><ellipse class="b" cx="-0.95" cy="0" rx="2.21" ry="2.42"/><rect class="b" x="0" y="-1.68" width="3.57" height="3.36" rx="1.05"/></g>
<g transform="translate(227 175) rotate(30)"><ellipse class="b" cx="-0.95" cy="0" rx="2.21" ry="2.42"/><rect class="b" x="0" y="-1.68" width="3.57" height="3.36" rx="1.05"/></g>
<g transform="translate(279 134.5) rotate(30)"><ellipse class="b" cx="-0.95" cy="0" rx="2.21" ry="2.42"/><rect class="b" x="0" y="-1.68" width="3.57" height="3.36" rx="1.05"/></g>
<rect class="b" x="261" y="212.5" width="7" height="6.5" rx="1.5"/>
<path class="b" d="M268.3 131h5.6v3h-1.6v4.6h-2.4v-4.6h-1.6z"/>
<path class="c" d="M90.5 189 L117 200"/>
<path class="c" d="M121 181.5 L143 192"/>
<path class="c" d="M83 248.5 L94 253"/>
<path class="c" d="M163 180 L178 187"/>
<path class="c" d="M229 176 L236 180"/>
<path class="c" d="M256 152.5 L268 158"/>
<path class="c" d="M281 136 L290 140"/>
<path class="c" d="M217 196 L262 214"/>
<path class="t" d="M77.5 212 L101 203"/>
<path class="t" d="M97 292 L106 296 L108 292"/>
<path class="k" d="M97.6 445.8L105.0 441.1L132.7 447.4"/>
<path class="o" d="M97.6 445.8L119.2 451.5L131.4 447.4"/>
<path class="o" d="M97.6 445.8L97.6 454.5L99.8 455.6L99.8 464.0L102.6 466.4L105.5 464.5L105.5 457.8"/>
<path class="o" d="M99.8 455.6L105.5 457.8L126.7 473.0L134.5 471.1"/>
<path class="t" d="M119.2 451.5L120.0 461.6L127.9 467.9"/>
<path class="t" d="M107.4 458.8L127.1 469.5L127.6 473.0"/>
<path class="o" d="M136.6 458.8L136.6 474.2L139.3 475.8L141.8 473.9L141.8 460.0"/>
<path class="o" d="M143.7 474.2L143.7 479.8L146.6 481.4L149.7 479.8L149.7 475.8"/>
<path class="k" d="M145.0 476.1L145.0 479.3L148.5 479.3L148.5 476.1"/>
<g transform="translate(90 400) scale(0.15798)">
<ellipse class="g" cx="80" cy="405" rx="4" ry="6"/>
<ellipse class="g" cx="312" cy="462" rx="4" ry="6"/>
<path class="k" d="M262 300 L330 345 L480 412 Q540 418 560 398"/>
<path class="o" d="M330 345 L340 400 L545 575 Q575 585 600 565 L660 500"/>
<path class="t" d="M345 425 L545 562 Q570 570 590 552"/>
<path class="t" d="M340 400 L545 548"/>
<path class="tt" d="M455 420 Q450 480 470 505"/>
<path class="o" d="M548 290 L545 370 L560 400"/>
<path class="o" d="M575 365 L575 500 L560 512 L548 505"/>
<path class="k" d="M562 372 L562 498"/>
<path class="o" d="M548 290 Q560 275 580 272 L640 290"/>
<path class="t" d="M575 365 L640 470 L660 500"/>
<path class="o" d="M605 545 L605 575 L620 582 L636 572 L636 535"/>
<path class="k" d="M612 552 L612 572 L630 572 L630 548"/>
<path class="k" d="M300 310 Q400 300 520 255"/>
<path class="t" d="M430 215 L520 255 L560 240"/>
<path class="k" d="M640 290 L560 262"/>
</g>
<path class="o" d="M131.4 447.4L157.9 434.0L145.0 442.5L225.0 387.1L278.9 352.2L284.2 347.4"/>
<path class="t" d="M142.1 452.1L145.0 445.5L225.0 388.9L279.5 354.0"/>
<path class="o" d="M145.3 454.5L147.4 446.1L225.0 390.7L280.1 355.7"/>
<path class="t" d="M171.1 439.6L205.4 416.5"/>
<path class="t" d="M172.8 441.4L203.1 421.4"/>
<path class="o" d="M178.5 437.9L149.7 455.6L265.0 383.9L298.5 358.7"/>
<path class="t" d="M181.6 440.3L152.1 457.0L265.0 386.3L300.8 358.7L302.6 359.3"/>
<path class="t" d="M156.8 457.9L302.6 360.5"/>
<path class="o" d="M283.1 357.5L246.3 387.1L245.1 391.9L236.8 394.2"/>
<path class="k" d="M183.2 456.9L261.7 399.9"/>
<path class="k" d="M261.7 399.6L291.4 384.8L312.7 366.4L319.8 362.8"/>
<path class="t" d="M184.8 458.8L262.7 401.6"/>
<path class="o" d="M194.3 479.0L207.7 466.4L244.0 425.0L274.8 401.4L292.5 385.4"/>
<path class="t" d="M191.1 474.2L208.5 463.2L248.7 416.8L262.3 406.1"/>
<g transform="translate(145 375) scale(0.11848)">
<path class="k" d="M340 370 L410 320 L480 350 L400 395 Z"/>
<path class="t" d="M410 322 L785 160 M420 336 L790 176 M470 345 L780 210 M490 356 L800 226"/>
<path class="o" d="M780 150 L850 140 L850 200 L800 230 L780 215 Z"/>
<path class="o" d="M850 140 L850 100 L1013 -20"/>
<path class="o" d="M505 345 L505 400 L545 380 L560 330"/>
<path class="k3" d="M383 513 L407 497"/>
<path class="k3" d="M438 470 L462 454"/>
<path class="k3" d="M488 435 L512 419"/>
<path class="k3" d="M533 404 L557 388"/>
<path class="k3" d="M583 374 L607 358"/>
<path class="k" d="M105 505 L215 545"/>
<path class="k" d="M295 575 L400 600"/>
<path class="o" d="M255 590 L265 690 L300 720"/>
<path class="o" d="M840 440 L840 495 L862 505 L882 492 L882 430"/>
<path class="k" d="M848 470 L848 492 L874 492 L874 466"/>
</g>
<g transform="translate(225 335) scale(0.11848)">
<path class="k" d="M500 105 L560 100 L700 120 L780 165 L830 210 L800 235 L770 230"/>
<path class="o" d="M455 145 L500 130 L690 150 L770 200"/>
<path class="o" d="M460 170 L490 150 L640 180 L655 200 L600 215 L590 200 L500 180 L460 195 Z"/>
<path class="t" d="M500 105 L495 130 M560 100 L555 125 M700 120 L690 150"/>
<path class="o" d="M310 545 L305 660 M322 560 L316 650"/>
<path class="t" d="M318 560 L568 438"/>
<path class="tt" d="M318 544 L323 558"/>
<path class="tt" d="M338 534 L343 548"/>
<path class="tt" d="M358 524 L363 538"/>
<path class="tt" d="M378 514 L383 528"/>
<path class="tt" d="M398 504 L403 518"/>
<path class="tt" d="M418 494 L423 508"/>
<path class="tt" d="M438 485 L443 499"/>
<path class="tt" d="M458 475 L463 489"/>
<path class="tt" d="M478 465 L483 479"/>
<path class="tt" d="M498 455 L503 469"/>
<path class="tt" d="M518 445 L523 459"/>
<path class="tt" d="M538 435 L543 449"/>
<path class="tt" d="M558 425 L563 439"/>
<path class="o" d="M100 500 L110 540 L160 555 L172 520 L170 480"/>
<path class="t" d="M0 560 L100 520 M0 590 L120 545"/>
</g>
<text class="n" transform="translate(197 362.06) scale(0.677 1)" font-size="18.6">7</text>
<text class="n" transform="translate(313 439.06) scale(0.677 1)" font-size="18.6">7</text>
<text class="n" transform="translate(60 461.06) scale(0.677 1)" font-size="18.6">5</text>
<text class="n" transform="translate(65 503.06) scale(0.677 1)" font-size="18.6">6</text>
<text class="n" transform="translate(143 542.06) scale(0.677 1)" font-size="18.6">6</text>
<text class="n" transform="translate(198 551.06) scale(0.677 1)" font-size="18.6">6</text>
<text class="n" transform="translate(246 507.06) scale(0.677 1)" font-size="18.6">6</text>
<path class="l" d="M204 354.5 L230 354.5"/>
<path class="l" d="M312.5 424 L312.5 392"/>
<path class="l" d="M67 453.5 L97 453.5"/>
<path class="l" d="M72 495.5 L100 495.5"/>
<path class="l" d="M143 527 L139 512"/>
<path class="l" d="M143 527 L145.5 512"/>
<path class="l" d="M198 535 L188 521"/>
<path class="l" d="M198 535 L208 521"/>
<path class="l" d="M245.5 491 L245.5 470"/>
<path class="b" d="M231 352.5 L236.5 349.5 L240.5 353.5 L235 357.5Z"/>
<path class="b" d="M308.5 385 L314 384 L316 389.5 L310.5 391Z"/>
<path class="c" d="M240 355 L256 366"/>
<path class="c" d="M308 386 L297 384"/>
<rect class="b" x="100.9" y="492.1" width="5.2" height="6.8" rx="0.8"/>
<rect x="102.2" y="493.6" width="2.6" height="3.2" fill="#666"/>
<rect class="b" x="136.4" y="501.6" width="5.2" height="6.8" rx="0.8"/>
<rect x="137.7" y="503.1" width="2.6" height="3.2" fill="#666"/>
<rect class="b" x="142.9" y="501.6" width="5.2" height="6.8" rx="0.8"/>
<rect x="144.2" y="503.1" width="2.6" height="3.2" fill="#666"/>
<rect class="b" x="184.9" y="511.6" width="5.2" height="6.8" rx="0.8"/>
<rect x="186.2" y="513.1" width="2.6" height="3.2" fill="#666"/>
<rect class="b" x="205.4" y="511.6" width="5.2" height="6.8" rx="0.8"/>
<rect x="206.7" y="513.1" width="2.6" height="3.2" fill="#666"/>
<rect class="b" x="243.4" y="460.6" width="5.2" height="6.8" rx="0.8"/>
<rect x="244.7" y="462.1" width="2.6" height="3.2" fill="#666"/>
<path class="c" d="M103.5 466 L103.5 491"/>
<path class="c" d="M139 472 L139 500"/>
<path class="c" d="M145.5 478 L145.5 500"/>
<path class="c" d="M187.5 492 L187.5 510"/>
<path class="c" d="M208 465 L208 510"/>
<path class="c" d="M246 436 L246 459"/>
<g transform="translate(170 570) scale(0.11848)">
<path class="k" d="M95 215 L135 170 L185 215 L175 235 L110 235 Z"/>
<path class="k" d="M135 170 L340 240"/>
<path class="o" d="M175 235 L190 610 L440 700 L480 700 L575 680 L585 655 L700 650 Q735 640 742 610 L745 380"/>
<path class="t" d="M300 245 L320 652"/>
<path class="t" d="M430 300 L440 700"/>
<path class="t" d="M470 310 L480 700"/>
<path class="k" d="M340 300 L385 255 L435 300 L420 320 L355 320 Z"/>
<path class="o" d="M745 380 L660 405 L612 440 L590 500 L575 680"/>
<path class="k" d="M340 240 Q400 205 470 210 Q560 215 590 262 Q580 310 540 335 L500 340 Q440 300 400 262 Z"/>
<path class="k" d="M590 262 Q650 235 720 262 Q775 290 790 262"/>
<path class="k" d="M560 330 Q640 290 720 300 Q775 320 770 345 Q740 380 690 385 L640 372 Q600 355 560 330"/>
<path class="f" d="M770 250 L800 262 L800 320 L770 345 L740 300 Z"/>
<path class="f" d="M650 385 L700 395 L715 410 L680 405 Z"/>
<path class="k" d="M500 340 L545 350 L560 330"/>
<path class="o" d="M500 200 L620 132 L700 110 L900 -20"/>
<path class="o" d="M470 210 Q520 190 560 170"/>
<path class="o" d="M600 235 L720 172 L1013 10"/>
<path class="t" d="M590 262 L730 190 L1013 35"/>
<path class="t" d="M620 160 L660 142 L692 158 L660 180 Z"/>
<path class="t" d="M640 132 L700 100 L980 -60"/>
<path class="o" d="M760 185 L790 185 L790 215 L760 215 Z"/>
<path class="k" d="M818 182 L858 160 L900 215 L872 240 L830 236 Z"/>
<path class="k3" d="M830 110 L1013 20"/>
<path class="t" d="M850 140 L1013 55"/>
</g>
<g transform="translate(230 525) scale(0.11848)">
<path class="o" d="M100 522 L185 497 L375 355 L395 345 L715 185 L750 185 L755 150"/>
<path class="t" d="M200 522 L380 392 L540 310"/>
<path class="o" d="M320 545 L500 418 L540 398 L850 226"/>
<path class="o" d="M330 562 L510 432 L548 412 L858 240"/>
<path class="tt" d="M325 545 L333 559"/>
<path class="tt" d="M345 533 L353 547"/>
<path class="tt" d="M365 520 L373 534"/>
<path class="tt" d="M385 508 L393 522"/>
<path class="tt" d="M405 496 L413 510"/>
<path class="tt" d="M425 484 L433 498"/>
<path class="tt" d="M445 471 L453 485"/>
<path class="tt" d="M465 459 L473 473"/>
<path class="tt" d="M485 447 L493 461"/>
<path class="tt" d="M505 434 L513 448"/>
<path class="tt" d="M525 422 L533 436"/>
<path class="tt" d="M545 410 L553 424"/>
<path class="tt" d="M565 397 L573 411"/>
<path class="tt" d="M585 385 L593 399"/>
<path class="tt" d="M605 373 L613 387"/>
<path class="tt" d="M625 360 L633 374"/>
<path class="tt" d="M645 348 L653 362"/>
<path class="tt" d="M665 336 L673 350"/>
<path class="tt" d="M685 324 L693 338"/>
<path class="tt" d="M705 311 L713 325"/>
<path class="tt" d="M725 299 L733 313"/>
<path class="tt" d="M745 287 L753 301"/>
<path class="tt" d="M765 274 L773 288"/>
<path class="tt" d="M785 262 L793 276"/>
<path class="tt" d="M805 250 L813 264"/>
<path class="tt" d="M825 238 L833 252"/>
<path class="tt" d="M845 225 L853 239"/>
<path class="k" d="M250 500 L440 365 L580 295 L610 300 L600 320 L470 385 L270 520 Z"/>
<path class="o" d="M380 350 L570 288 L615 292"/>
<path class="k" d="M540 400 L600 365 L650 415 L620 440 L560 435 Z"/>
<path class="k" d="M310 560 L345 545 L390 600 L350 625 L320 610 Z"/>
<path class="o" d="M750 150 L760 185 L860 195 L900 230 L860 250 L830 215 L760 205"/>
<path class="o" d="M800 110 L800 150 L860 160 L860 195"/>
<path class="k" d="M760 120 L800 110"/>
<path class="o" d="M258 570 L275 570 L275 590 L258 590 Z"/>
</g>
<g transform="translate(240 480) scale(0.25000)">
<path class="o" d="M345 282 L350 262 L330 255 L322 240 L345 232"/>
<path class="k" d="M335 222 L498 85 L520 80 L572 95 L545 190 L395 272 L350 262"/>
<path class="k" d="M352 232 L500 105 L520 100 L545 112 L530 178 L392 255 Z"/>
<path class="t" d="M345 240 L385 225 L392 255 M385 225 L545 112"/>
<path class="t" d="M360 215 L540 150 M395 272 L545 205 L548 190"/>
<path class="o" d="M520 80 L520 100 M550 75 L548 95"/>
<path class="o" d="M345 282 L362 292 L382 285 L395 272"/>
<path class="o" d="M362 292 L362 300"/>
</g>
<g transform="translate(240 480) scale(0.25000)">
<path class="o" d="M150 688 L330 580 L385 598 L205 708 Z"/>
<path class="o" d="M185 690 L335 598 L348 602 L198 695 Z"/>
<path class="t" d="M160 700 L160 745"/>
<path class="t" d="M205 712 L205 745"/>
<path class="t" d="M247 690 L247 745"/>
<path class="t" d="M290 668 L290 745"/>
<path class="t" d="M330 640 L330 745"/>
<path class="t" d="M372 612 L372 745"/>
<path class="o" d="M247 625 L247 640 M330 570 L330 585 M290 645 L290 660"/>
</g>
<text class="n" transform="translate(140 604.06) scale(0.677 1)" font-size="18.6">2</text>
<text class="n" transform="translate(143 633.06) scale(0.677 1)" font-size="18.6">3</text>
<text class="n" transform="translate(235 701.06) scale(0.677 1)" font-size="18.6">3</text>
<text class="n" transform="translate(285 634.06) scale(0.677 1)" font-size="18.6">3</text>
<text class="n" transform="translate(333 605.06) scale(0.677 1)" font-size="18.6">3</text>
<text class="n" transform="translate(409 557.06) scale(0.677 1)" font-size="18.6">3</text>
<text class="n" transform="translate(372 636.06) scale(0.677 1)" font-size="18.6">4</text>
<text class="n" transform="translate(307 710.06) scale(0.677 1)" font-size="18.6">3</text>
<path class="l" d="M147 596.5 L181 596.5"/>
<path class="l" d="M150 625.5 L186 625.5"/>
<path class="l" d="M401 549.5 L378 549.5"/>
<path class="l" d="M364 628.5 L337 628.5"/>
<path class="l" d="M235 685 L216.5 662"/>
<path class="l" d="M235 685 L229.5 662"/>
<path class="l" d="M235 685 L250.5 662"/>
<path class="l" d="M280 625 L264 624"/>
<path class="l" d="M280 625 L272 614"/>
<path class="l" d="M280 625 L281.5 602"/>
<path class="l" d="M328 590.5 L301 590.5"/>
<path class="l" d="M328 591 L320 582"/>
<path class="l" d="M328 591 L331.5 570"/>
<path class="l" d="M307 694 L280.5 672"/>
<path class="b" d="M279.3 666.0h2.4v2.4l1.2 2.0h-4.8l1.2 -2.0z"/>
<path class="t" d="M280.5 655 L280.5 666"/>
<path class="l" d="M307 694 L290.5 672"/>
<path class="b" d="M289.3 666.0h2.4v2.4l1.2 2.0h-4.8l1.2 -2.0z"/>
<path class="t" d="M290.5 655 L290.5 666"/>
<path class="l" d="M307 694 L301.5 672"/>
<path class="b" d="M300.3 666.0h2.4v2.4l1.2 2.0h-4.8l1.2 -2.0z"/>
<path class="t" d="M301.5 655 L301.5 666"/>
<path class="l" d="M307 694 L312 672"/>
<path class="b" d="M310.8 666.0h2.4v2.4l1.2 2.0h-4.8l1.2 -2.0z"/>
<path class="t" d="M312 655 L312 666"/>
<path class="l" d="M307 694 L322.5 672"/>
<path class="b" d="M321.3 666.0h2.4v2.4l1.2 2.0h-4.8l1.2 -2.0z"/>
<path class="t" d="M322.5 655 L322.5 666"/>
<path class="l" d="M307 694 L333 672"/>
<path class="b" d="M331.8 666.0h2.4v2.4l1.2 2.0h-4.8l1.2 -2.0z"/>
<path class="t" d="M333 655 L333 666"/>
<path class="b" d="M186.4 621.8h2.5v2.5l1.3 2.1h-5.1l1.3 -2.1z"/>
<path class="b" d="M215.2 656.3h2.5v2.5l1.3 2.1h-5.1l1.3 -2.1z"/>
<path class="b" d="M228.2 656.3h2.5v2.5l1.3 2.1h-5.1l1.3 -2.1z"/>
<path class="b" d="M249.2 656.3h2.5v2.5l1.3 2.1h-5.1l1.3 -2.1z"/>
<path class="b" d="M262.2 620.3h2.5v2.5l1.3 2.1h-5.1l1.3 -2.1z"/>
<path class="b" d="M270.2 608.8h2.5v2.5l1.3 2.1h-5.1l1.3 -2.1z"/>
<path class="b" d="M280.2 596.3h2.5v2.5l1.3 2.1h-5.1l1.3 -2.1z"/>
<path class="b" d="M299.2 587.3h2.5v2.5l1.3 2.1h-5.1l1.3 -2.1z"/>
<path class="b" d="M318.2 577.3h2.5v2.5l1.3 2.1h-5.1l1.3 -2.1z"/>
<path class="b" d="M330.2 564.8h2.5v2.5l1.3 2.1h-5.1l1.3 -2.1z"/>
<path class="b" d="M375.7 545.8h2.5v2.5l1.3 2.1h-5.1l1.3 -2.1z"/>
<path class="t" d="M187.7 598 L187.7 622"/>
<path class="t" d="M216.5 608 L216.5 657"/>
<path class="t" d="M229.5 612 L229.5 657"/>
<path class="t" d="M250.5 647 L250.5 657"/>
<path class="t" d="M263.5 606 L263.5 621"/>
<path class="t" d="M271.5 592 L271.5 610"/>
<path class="t" d="M281.5 584 L281.5 597"/>
<path class="t" d="M300.5 574 L300.5 588"/>
<path class="t" d="M319.5 560 L319.5 578"/>
<path class="t" d="M331.5 552 L331.5 565"/>
<path class="t" d="M377 505 L377 546"/>
<g transform="translate(350 270) scale(0.22371)">
<path class="of" d="M330 350 L365 320 L430 305 L440 320 L440 340 L395 350 L375 365 L380 380 L410 375 L412 395 L380 405 L345 400 L328 380 Z"/>
<path class="k" d="M330 350 L365 320 L430 305"/>
<path class="t" d="M340 356 Q360 335 432 318 M350 364 Q368 345 438 330 M334 372 L350 364 M345 400 L350 364"/>
<path class="of" d="M525 420 L560 385 L620 370 L630 385 L628 405 L585 418 L570 435 L580 455 L560 470 L530 460 L520 440 Z"/>
<path class="k" d="M525 420 L560 385 L620 370"/>
<path class="t" d="M535 428 Q555 400 624 382 M545 436 Q562 412 628 395 M540 462 L545 436"/>
<path class="f" d="M580 445 L605 445 L610 465 L585 470 Z"/>
<ellipse cx="597" cy="458" rx="7" ry="9" fill="#999"/>
<path class="l" d="M140 302 L238 336"/>
<path class="c" d="M238 336 L330 365"/>
<path class="l" d="M610 462 L672 482 L752 508"/>
</g>
<text class="n" transform="translate(381 303.06) scale(0.677 1)" font-size="18.6">3</text>
<text class="n" transform="translate(403.7 311.56) scale(0.677 1)" font-size="18.6">16</text>
<text class="n" transform="translate(441.3 306.06) scale(0.677 1)" font-size="18.6">13</text>
<text class="n" transform="translate(379 400.06) scale(0.677 1)" font-size="18.6">3</text>
<text class="n" transform="translate(424 412.56) scale(0.677 1)" font-size="18.6">3</text>
<text class="n" transform="translate(482 422.06) scale(0.677 1)" font-size="18.6">14</text>
<text class="n" transform="translate(500.5 425.06) scale(0.677 1)" font-size="18.6">16</text>
<text class="n" transform="translate(519 431.56) scale(0.677 1)" font-size="18.6">3</text>
<text class="n" transform="translate(496.5 347.06) scale(0.677 1)" font-size="18.6">3</text>
<text class="n" transform="translate(510 310.56) scale(0.677 1)" font-size="18.6">10</text>
<path class="l" d="M380.5 304 L380.5 337"/>
<path class="l" d="M403.5 312.5 L403.5 344"/>
<path class="l" d="M441.5 307 L441.5 339"/>
<path class="l" d="M379 384 L369.7 367"/>
<path class="l" d="M379 384 L384.7 363"/>
<path class="l" d="M424 397 L415 380.5"/>
<path class="l" d="M424 397 L430 377.5"/>
<path class="l" d="M482.5 375 L482.5 406"/>
<path class="l" d="M500.5 378 L500.5 409"/>
<path class="l" d="M518.5 384 L518.5 416"/>
<path class="l" d="M500.5 339.5 L531 339.5"/>
<path class="l" d="M520 300 L530 279.5"/>
<path class="l" d="M520 300 L540 285.5"/>
<path class="l" d="M520 300 L550 298"/>
<circle class="b" cx="381.3" cy="337.6" r="1.9"/>
<circle class="b" cx="403.3" cy="345.3" r="1.9"/>
<circle class="b" cx="369.7" cy="366.5" r="1.9"/>
<circle class="b" cx="384.7" cy="362.5" r="1.9"/>
<circle class="b" cx="415" cy="380.2" r="1.9"/>
<circle class="b" cx="430" cy="377" r="1.9"/>
<circle class="b" cx="500.3" cy="377.8" r="1.9"/>
<circle class="b" cx="518.3" cy="383.6" r="1.9"/>
<circle class="b" cx="531.7" cy="339.5" r="1.9"/>
<g transform="translate(529.5 279) rotate(30)"><ellipse class="b" cx="-1.08" cy="0" rx="2.52" ry="2.76"/><rect class="b" x="0" y="-1.92" width="4.08" height="3.84" rx="1.20"/></g>
<g transform="translate(539.5 285) rotate(30)"><ellipse class="b" cx="-1.08" cy="0" rx="2.52" ry="2.76"/><rect class="b" x="0" y="-1.92" width="4.08" height="3.84" rx="1.20"/></g>
<g transform="translate(549.5 298) rotate(30)"><ellipse class="b" cx="-1.08" cy="0" rx="2.52" ry="2.76"/><rect class="b" x="0" y="-1.92" width="4.08" height="3.84" rx="1.20"/></g>
<g transform="translate(560 170) scale(0.21053)">
<path class="o" d="M225 25 L228 232 M225 25 L275 20 L283 52 L268 135 L240 130"/>
<path class="t" d="M238 40 L240 128 M250 40 L272 30 M245 120 L275 45"/>
<ellipse class="b" cx="246" cy="58" rx="4" ry="5"/>
<path class="k" d="M240 130 L275 160 L500 225 L600 262 L690 287 Q735 310 748 365"/>
<path class="k" d="M258 175 L300 180 L500 240 L560 275 Q585 300 585 340 L575 440 L420 700 Q400 725 375 722"/>
<path class="o" d="M272 190 L490 252 L548 288 Q566 310 565 345 L555 432 L408 688 Q395 705 380 708"/>
<path class="t" d="M285 205 L480 262 L535 298 Q550 315 548 345 L538 425 L398 672"/>
<path class="o" d="M275 160 L262 178 L258 205 L235 235"/>
<ellipse class="b" cx="395" cy="222" rx="8" ry="5" transform="rotate(20 395 222)"/>
<ellipse class="b" cx="500" cy="238" rx="8" ry="5" transform="rotate(20 500 238)"/>
<ellipse class="b" cx="590" cy="268" rx="8" ry="5" transform="rotate(20 590 268)"/>
<ellipse class="b" cx="712" cy="352" rx="8" ry="5" transform="rotate(20 712 352)"/>
<path class="o" d="M75 320 L105 285 L235 235 L258 205"/>
<path class="o" d="M75 320 L70 470 L85 492 L100 498 L120 535 L310 600 L330 588"/>
<path class="o" d="M75 320 L160 335 L240 372 Q290 380 308 420 L330 588"/>
<path class="t" d="M240 372 Q280 390 292 430 L305 592"/>
<path class="tt" d="M298 470 L300 520 M318 470 L322 540"/>
<path class="k" d="M160 335 L395 265"/>
<path class="t" d="M105 285 L160 300 L160 335"/>
<path class="t" d="M240 360 L420 292 M255 372 L440 300"/>
<path class="o" d="M395 265 L420 262 L545 300"/>
<path class="t" d="M235 235 L280 215 L420 262"/>
<path class="o" d="M300 400 L545 322"/>
<path class="o" d="M330 588 L470 552 L505 528"/>
<path class="t" d="M120 535 L130 500 L300 545"/>
<path class="o" d="M432 382 L350 562 L455 535"/>
<path class="t" d="M420 388 L345 548"/>
<circle class="t" cx="505" cy="415" r="22"/><circle class="t" cx="505" cy="415" r="17"/>
<circle class="b" cx="435" cy="396" r="4"/>
<circle class="b" cx="362" cy="556" r="4"/>
<circle class="b" cx="486" cy="440" r="4"/>
<circle class="b" cx="530" cy="386" r="4"/>
<circle class="o" cx="625" cy="455" r="36"/>
<path class="o" d="M590 478 Q640 520 668 600 L690 760"/>
<path class="t" d="M600 470 Q655 515 682 600 L702 760"/>
<path class="o" d="M95 500 L60 622 L30 650 L35 668 L62 672"/>
<path class="o" d="M120 535 L85 640"/>
<path class="k" d="M60 610 L330 692 L405 682"/>
<path class="o" d="M80 642 L318 722 L318 745 L345 740 L400 712"/>
<path class="t" d="M85 655 L310 730"/>
<circle class="o" cx="186" cy="596" r="19"/><circle class="t" cx="182" cy="598" r="13"/>
<path class="f" d="M55 625 L78 625 L80 660 L58 662 Z"/>
<path class="f" d="M320 712 L345 705 L348 738 L322 742 Z"/>
<path class="f" d="M368 708 L405 695 L412 712 L380 725 Z"/>
</g>
<g transform="translate(690 250) scale(0.18416)">
<path class="k" d="M-55 -150 Q60 -120 120 -60 Q150 -20 160 0 L160 72 L195 92"/>
<path class="o" d="M205 0 L200 86 M160 0 L205 0"/>
<path class="o" d="M160 100 L470 190 L480 108 L520 106 L545 45 L620 70 L635 130 L620 190 L560 186 L520 232 L490 262"/>
<path class="o" d="M150 150 L470 250 L490 262"/>
<path class="o" d="M160 100 L150 150"/>
<path class="t" d="M545 45 L556 110 L525 160 M556 110 L625 135"/>
<path class="k" d="M545 45 L620 70 L635 130"/>
<path class="t" d="M320 166 L320 192"/>
<circle class="b" cx="178" cy="126" r="9"/>
<circle class="b" cx="462" cy="226" r="9"/>
<circle class="b" cx="572" cy="88" r="9"/>
<circle class="b" cx="578" cy="238" r="9"/>
<path class="o" d="M135 130 L110 290 L95 420 L105 560 L122 592"/>
<path class="t" d="M150 150 L126 330 L116 520"/>
<path class="k" d="M150 262 Q160 215 200 190 Q215 183 240 192 L400 250 Q440 275 450 325 Q440 358 405 352 L210 332 Q165 310 150 262 Z"/>
<path class="k" d="M205 235 Q215 205 250 212 L390 262 Q425 285 428 318 Q420 338 395 335 L260 300 Q215 280 205 235 Z"/>
<path class="t" d="M170 270 Q185 225 215 205 M160 290 Q200 325 250 338"/>
<path class="o" d="M250 250 L280 245 L282 278 L252 282 Z M340 278 L372 272 L375 305 L345 310 Z"/>
<path class="f" d="M258 258 L272 258 L272 274 L258 274 Z M350 284 L365 284 L365 300 L350 300 Z"/>
<path class="o" d="M180 365 L365 430 L368 500 L180 442 Z"/>
<path class="f" d="M188 372 L216 382 L210 470 L194 462 Z"/>
<path class="of" d="M198 392 L208 396 L205 450 L198 446 Z"/>
<path class="f" d="M228 386 L256 396 L250 484 L234 476 Z"/>
<path class="of" d="M238 406 L248 410 L245 464 L238 460 Z"/>
<path class="f" d="M268 400 L296 410 L290 498 L274 490 Z"/>
<path class="of" d="M278 420 L288 424 L285 478 L278 474 Z"/>
<path class="f" d="M308 414 L336 424 L330 512 L314 504 Z"/>
<path class="of" d="M318 434 L328 438 L325 492 L318 488 Z"/>
<path class="o" d="M115 530 L150 505 L350 562 L330 662 L125 592 Z"/>
<path class="t" d="M130 546 L338 612 M235 562 L230 626 M150 505 L140 540"/>
<path class="o" d="M140 600 L140 655 L176 660 L180 612 M255 640 L255 700 L292 700 L296 650"/>
<path class="f" d="M150 625 L160 625 L160 648 L150 648 Z M264 668 L275 668 L275 692 L264 692 Z"/>
<path class="k" d="M520 232 L440 340 L352 500 L326 665"/>
<path class="o" d="M548 242 L466 352 L378 500 L346 660"/>
<path class="k" d="M350 490 Q390 505 420 498 Q438 488 440 470"/>
<path class="o" d="M326 665 L346 660"/>
<path class="k" d="M470 350 Q530 322 590 350 Q640 395 660 470 Q665 540 620 640"/>
<path class="t" d="M455 420 L520 400 M640 560 L700 540 M660 470 L720 450"/>
<path class="o" d="M540 200 Q600 222 680 215 L760 195"/>
<path class="k" d="M535 262 Q600 295 680 296 L760 276"/>
<path class="o" d="M540 200 Q525 230 535 262"/>
<path class="tt" d="M560 222 L563 305"/>
<path class="tt" d="M582 221 L585 303"/>
<path class="tt" d="M604 220 L607 301"/>
<path class="tt" d="M626 219 L629 300"/>
<path class="tt" d="M648 218 L651 288"/>
<path class="tt" d="M670 218 L673 286"/>
<path class="tt" d="M692 217 L695 284"/>
<path class="tt" d="M714 216 L717 283"/>
<path class="tt" d="M736 215 L739 281"/>
<path class="tt" d="M758 214 L761 279"/>
<path class="tt" d="M560 300 L700 330 M540 320 L680 352 M600 300 L640 345 M640 310 L680 352"/>
<path class="o" d="M88 470 L100 570 L-30 600"/>
<path class="t" d="M100 570 L60 585 L-40 640"/>
</g>
<text class="n" transform="translate(797 358.56) scale(0.677 1)" font-size="18.6">11</text>
<path class="l" d="M790 353 L776.5 349.5"/>
<path class="l" d="M790 354 L773.5 365"/>
<g transform="translate(774 349.5) rotate(20)"><ellipse class="b" cx="-0.99" cy="0" rx="2.31" ry="2.53"/><rect class="b" x="0" y="-1.76" width="3.74" height="3.52" rx="1.10"/></g>
<g transform="translate(771 365) rotate(20)"><ellipse class="b" cx="-0.99" cy="0" rx="2.31" ry="2.53"/><rect class="b" x="0" y="-1.76" width="3.74" height="3.52" rx="1.10"/></g>
<path class="c" d="M771 350.5 L758 354"/>
<path class="c" d="M768 366 L750 372"/>
<path class="c" d="M745 374 L731 378"/>
<path class="c" d="M722 368 L708 372"/>
<g transform="translate(540 290) scale(0.15798)">
<path class="o" d="M160 60 L130 160 L112 215 L118 290 L240 365 Q262 368 275 350 Q290 330 318 340 L330 365 L335 420 L400 460 L440 500 L445 560 L480 615 L540 640 L585 645 L1085 440"/>
<path class="k" d="M540 640 L585 645 L1085 440"/>
<path class="o" d="M500 575 L520 605 L1075 420"/>
<path class="o" d="M318 340 Q400 372 455 430 Q490 490 495 560 L520 605"/>
<path class="t" d="M335 332 Q412 362 470 425 Q502 490 506 555"/>
<path class="t" d="M120 215 L320 332 M128 228 L300 328"/>
<path class="o" d="M230 130 L420 215 L600 290 Q660 335 730 385 Q800 410 1013 430"/>
<path class="t" d="M1013 120 L940 230 L850 402"/>
<path class="t" d="M445 540 L500 530 M440 560 L500 550"/>
<circle class="b" cx="118" cy="215" r="8"/>
<circle class="b" cx="150" cy="272" r="8"/>
<circle class="b" cx="458" cy="518" r="8"/>
</g>
<text class="n" transform="translate(553 401.06) scale(0.677 1)" font-size="18.6">3</text>
<text class="n" transform="translate(678 435.06) scale(0.677 1)" font-size="18.6">10</text>
<path class="l" d="M555 385 L558.5 362"/>
<path class="l" d="M555 385 L572 362.5"/>
<path class="l" d="M555 385 L574.5 367.5"/>
<ellipse class="b" cx="558.2" cy="360.5" rx="2.3" ry="1.8"/>
<ellipse class="b" cx="572.4" cy="361" rx="2.3" ry="1.8"/>
<ellipse class="b" cx="575" cy="366" rx="2.3" ry="1.8"/>
<path class="l" d="M672 420 L653.5 396.5"/>
<path class="l" d="M672 420 L661 391"/>
<g transform="translate(652.5 394.5) rotate(30)"><ellipse class="b" cx="-1.12" cy="0" rx="2.62" ry="2.88"/><rect class="b" x="0" y="-2.00" width="4.25" height="4.00" rx="1.25"/></g>
<g transform="translate(659.6 389.2) rotate(30)"><ellipse class="b" cx="-1.12" cy="0" rx="2.62" ry="2.88"/><rect class="b" x="0" y="-2.00" width="4.25" height="4.00" rx="1.25"/></g>
<path class="c" d="M650 392 L641 387"/>
<path class="c" d="M657 387 L651 383"/>
<g transform="translate(790 260) scale(0.18416)">
<path class="k" d="M300 105 L340 116 L390 140 L440 150 L520 122 L635 70"/>
<path class="o" d="M300 105 L275 180 L250 230"/>
<path class="o" d="M635 70 L655 100 L650 380 L600 405"/>
<path class="t" d="M630 85 L628 372"/>
<path class="o" d="M590 155 L650 155 M590 245 L650 245 M610 300 L636 300 M604 316 L636 316"/>
<path class="k" d="M240 580 L600 405 L650 380"/>
<path class="o" d="M215 628 L245 588 L612 420"/>
<path class="o" d="M75 585 L110 620 L215 630"/>
<path class="o" d="M75 585 L95 560 L230 322"/>
<path class="o" d="M230 250 L270 220 L300 235 L290 282 L255 305 L232 290 Z"/>
<ellipse class="t" cx="280" cy="262" rx="12" ry="20" transform="rotate(25 280 262)"/>
<path class="o" d="M232 290 L95 560 M300 290 L170 592 M322 250 L185 602 M312 270 L178 598"/>
<path class="t" d="M370 142 L385 290 L290 420 L170 600"/>
<path class="o" d="M465 150 L440 300 L310 540"/>
<path class="t" d="M300 236 L440 300 L640 356 M440 312 L622 372"/>
<path class="o" d="M285 420 L380 426 L310 540"/>
<ellipse class="b" cx="333" cy="146" rx="9" ry="6" transform="rotate(-20 333 146)"/>
<path class="k" d="M-60 170 Q80 178 200 160 L290 136"/>
<path class="o" d="M-60 232 Q100 250 200 226 L265 200"/>
<path class="tt" d="M-40 178 L-36 236"/>
<path class="tt" d="M-14 178 L-10 236"/>
<path class="tt" d="M12 178 L16 236"/>
<path class="tt" d="M38 178 L42 236"/>
<path class="tt" d="M64 178 L68 236"/>
<path class="tt" d="M90 178 L94 236"/>
<path class="tt" d="M116 170 L120 226"/>
<path class="tt" d="M142 170 L146 226"/>
<path class="tt" d="M168 170 L172 226"/>
<path class="tt" d="M194 170 L198 226"/>
<path class="tt" d="M220 170 L224 226"/>
<path class="tt" d="M246 170 L250 226"/>
<path class="tt" d="M-40 262 L120 262 M-20 285 L100 300 M60 262 L100 300 M0 262 L40 290"/>
<path class="k" d="M0 290 Q70 330 100 385 Q115 450 95 520 L75 585"/>
<path class="t" d="M112 430 L160 420 M100 500 L140 490"/>
</g>
<text class="n" transform="translate(945 308.06) scale(0.677 1)" font-size="18.6">10</text>
<text class="n" transform="translate(887 403.06) scale(0.677 1)" font-size="18.6">10</text>
<text class="n" transform="translate(866 436.06) scale(0.677 1)" font-size="18.6">10</text>
<path class="l" d="M938 297 L922 289"/>
<path class="l" d="M938 302 L922 305"/>
<path class="l" d="M887 388 L885 372"/>
<path class="l" d="M866 421 L849.5 400"/>
<path class="l" d="M866 421 L857 399.5"/>
<g transform="translate(919 288.6) rotate(0)"><ellipse class="b" cx="-0.95" cy="0" rx="2.21" ry="2.42"/><rect class="b" x="0" y="-1.68" width="3.57" height="3.36" rx="1.05"/></g>
<path class="t" d="M905 288.6 L916 288.6"/>
<g transform="translate(919 305) rotate(0)"><ellipse class="b" cx="-0.95" cy="0" rx="2.21" ry="2.42"/><rect class="b" x="0" y="-1.68" width="3.57" height="3.36" rx="1.05"/></g>
<path class="t" d="M905 305 L916 305"/>
<g transform="translate(884.8 368) rotate(30)"><ellipse class="b" cx="-1.03" cy="0" rx="2.42" ry="2.64"/><rect class="b" x="0" y="-1.84" width="3.91" height="3.68" rx="1.15"/></g>
<g transform="translate(848.9 397.2) rotate(30)"><ellipse class="b" cx="-1.03" cy="0" rx="2.42" ry="2.64"/><rect class="b" x="0" y="-1.84" width="3.91" height="3.68" rx="1.15"/></g>
<g transform="translate(856.3 396.3) rotate(30)"><ellipse class="b" cx="-1.03" cy="0" rx="2.42" ry="2.64"/><rect class="b" x="0" y="-1.84" width="3.91" height="3.68" rx="1.15"/></g>
<path class="c" d="M873 350.5 L884 366"/>
<path class="c" d="M835 368.5 L848 395"/>
<path class="c" d="M837 367.5 L855.5 394"/>
<g transform="translate(660 40) scale(0.25000)">
<path class="o" d="M437 188 L452 108 Q458 98 472 101 L665 162 Q698 175 702 215 L685 308 L670 303 L688 218 Q686 190 655 176 L478 116 Q468 114 465 122 L450 195 Z"/>
<path class="tt" d="M444 192 L458 112 M678 306 L695 218"/>
<path class="c" d="M703 208 L800 205"/>
</g>
<g transform="translate(720 130) scale(0.22371)">
<path class="k" d="M310 115 L615 185 L550 300 L262 200 Z"/>
<path class="t" d="M318 130 L600 195 L545 285 L275 195 Z"/>
<path class="o" d="M290 165 L330 150 L362 160 L358 190 L320 210 L288 198 Z"/>
<path class="f" d="M300 170 L340 160 L340 185 L305 195 Z"/>
<ellipse class="o" cx="356" cy="206" rx="12" ry="9" transform="rotate(-30 356 206)"/>
<path class="o" d="M475 235 L530 210 L565 225 L560 252 L515 280 L478 262 Z"/>
<path class="f" d="M480 240 L532 218 L532 240 L482 262 Z"/>
<path class="tt" d="M490 232 L490 255 M502 228 L502 250 M514 222 L514 245"/>
<circle class="b" cx="318" cy="126" r="8"/><circle class="b" cx="538" cy="178" r="9"/><ellipse class="o" cx="530" cy="272" rx="9" ry="6"/>
<path class="c" d="M210 165 L690 0"/>
<path class="c" d="M240 243 L1000 5"/>
<path class="c" d="M262 268 L1073 20"/>
<path class="c" d="M405 315 L1073 100"/>
</g>
<text class="n" transform="translate(685.8 84.06) scale(0.677 1)" font-size="18.6">18</text>
<text class="n" transform="translate(739 175.06) scale(0.677 1)" font-size="18.6">3</text>
<text class="n" transform="translate(715.7 183.36) scale(0.677 1)" font-size="18.6">19</text>
<text class="n" transform="translate(755.3 201.56) scale(0.677 1)" font-size="18.6">3</text>
<text class="n" transform="translate(811.8 231.06) scale(0.677 1)" font-size="18.6">3</text>
<text class="n" transform="translate(667 171.56) scale(0.677 1)" font-size="18.6">10</text>
<path class="l" d="M692.5 75.5 L771 75.5"/>
<path class="l" d="M744 167.5 L766 167.5"/>
<path class="l" d="M722.5 175.5 L778.5 175.5"/>
<path class="l" d="M760 193 L773 185"/>
<path class="l" d="M760 194 L778 190"/>
<path class="l" d="M810.5 201.5 L810.5 217"/>
<circle class="b" cx="767" cy="167" r="1.7"/>
<circle class="b" cx="773.5" cy="184.5" r="1.7"/>
<circle class="b" cx="778.5" cy="190" r="1.7"/>
<circle class="b" cx="810.6" cy="200.5" r="1.7"/>
<path class="l" d="M659 162 L635 160"/>
<path class="l" d="M659 165 L642 177.5"/>
<g transform="translate(633.5 160) rotate(20)"><ellipse class="b" cx="-1.08" cy="0" rx="2.52" ry="2.76"/><rect class="b" x="0" y="-1.92" width="4.08" height="3.84" rx="1.20"/></g>
<g transform="translate(640.5 178.5) rotate(20)"><ellipse class="b" cx="-1.08" cy="0" rx="2.52" ry="2.76"/><rect class="b" x="0" y="-1.92" width="4.08" height="3.84" rx="1.20"/></g>
<path class="c" d="M632 162 L618 178"/>
<path class="c" d="M639 180.5 L622 198"/>
<text class="n" transform="translate(522 217.06) scale(0.677 1)" font-size="18.6">17</text>
<path class="l" d="M529 208.5 L609 208.5"/>
<g transform="translate(510 150) scale(0.25000)">
<path class="o" d="M105 455 L262 375 M105 455 L240 560 L262 540"/>
<path class="c" d="M135 462 L75 515 M162 492 L115 540 M225 520 L165 585"/>
<circle class="b" cx="135" cy="460" r="5"/><circle class="b" cx="225" cy="520" r="5"/>
</g>
<g transform="translate(840 40) scale(0.25000)">
<path class="k3" d="M320 65 L350 62 L520 115 Q555 135 570 200 L545 290 L440 485 L420 490 L170 400 L165 385 L290 160 L305 90 Z"/>
<path class="o" d="M335 85 L510 130 Q540 150 550 200 L530 280 L430 465 L185 385 L302 170 L320 100 Z"/>
<path class="o" d="M300 165 L545 300 M320 160 L548 192 M322 150 L540 270"/>
<path class="o" d="M250 290 L490 355 M245 300 L485 365"/>
<ellipse cx="440" cy="145" rx="22" ry="17" fill="none" stroke="#111" stroke-width="2.6"/>
<ellipse class="b" cx="232" cy="325" rx="17" ry="12" transform="rotate(-30 232 325)"/>
<ellipse class="b" cx="258" cy="400" rx="17" ry="12" transform="rotate(-30 258 400)"/>
<ellipse class="b" cx="420" cy="368" rx="17" ry="12" transform="rotate(-30 420 368)"/>
<ellipse class="b" cx="410" cy="455" rx="17" ry="12" transform="rotate(-30 410 455)"/>
<path class="c" d="M-20 205 L545 190"/>
</g>
<g transform="translate(880 160) scale(0.22371)">
<path class="o" d="M165 85 L210 70 L235 80 L230 175 L165 205 Z"/>
<path class="f" d="M175 90 L195 85 L195 180 L175 190 Z"/>
<path class="k" d="M210 75 L212 170"/>
<path class="k3" d="M160 210 L440 310 L465 295"/>
<path class="o" d="M230 175 L420 240 L445 230 M232 160 L420 225"/>
<path class="o" d="M440 160 L460 155 L490 185 L465 295 M445 165 L440 235 M455 160 L470 190 L450 285"/>
<path class="f" d="M440 152 L462 150 L465 162 L445 166 Z"/>
<path class="o" d="M335 215 L310 255 M420 280 L445 262 L440 290 Z"/>
<path class="o" d="M165 205 L160 210"/>
<path class="k" d="M452 420 L622 478 Q648 495 640 520 Q628 545 600 540 L442 482 Q420 465 428 442 Q438 420 452 420 Z"/>
<path class="o" d="M455 430 L618 487 Q636 498 630 517 Q622 532 602 530 L446 473 Q432 462 437 446 Q444 430 455 430 Z"/>
<ellipse class="o" cx="464" cy="458" rx="13" ry="16"/><ellipse class="o" cx="540" cy="485" rx="12" ry="15"/><ellipse class="o" cx="608" cy="506" rx="13" ry="16"/>
<circle class="b" cx="497" cy="468" r="6"/><circle class="b" cx="573" cy="494" r="6"/>
<path class="o" d="M485 470 L510 466 M560 496 L586 492"/>
</g>
<text class="n" transform="translate(998.5 140.06) scale(0.677 1)" font-size="18.6">1</text>
<text class="n" transform="translate(1023.5 226.06) scale(0.677 1)" font-size="18.6">15</text>
<text class="n" transform="translate(1063 281.06) scale(0.677 1)" font-size="18.6">20</text>
<path class="l" d="M964 132.5 L993 132.5"/>
<path class="l" d="M984 219.5 L1016 219.5"/>
<path class="l" d="M1023 274.5 L1055 274.5"/>
<g transform="translate(540 520) scale(0.27624)">
<path class="o" d="M115 222 L415 118 L490 108"/>
<path class="o" d="M135 240 L420 136 L470 128"/>
<path class="o" d="M115 222 L135 240"/>
<path class="k" d="M120 230 L120 420 L150 480 L215 622 L232 636"/>
<path class="o" d="M140 246 L138 415 L166 470 L230 612"/>
<path class="t" d="M240 155 L176 176 L176 240"/>
<path class="k" d="M215 628 L420 575 L480 560 L724 500"/>
<path class="o" d="M232 638 L425 585 L485 570 L724 510"/>
<path class="o" d="M140 305 L215 320 Q290 300 330 250 L420 136"/>
<path class="t" d="M225 296 Q290 280 322 236"/>
<path class="t" d="M215 320 L300 592 M322 282 L415 572"/>
<path class="o" d="M510 150 L470 546 M535 158 L492 550"/>
<path class="o" d="M490 108 L492 116"/>
<path class="o" d="M470 128 L480 126"/>
<ellipse class="b" cx="533" cy="165" rx="10.4" ry="13.75" transform="rotate(20 533 165)"/>
<path class="t" d="M95 590 L160 525 M113 618 L190 500 M95 590 L113 618"/>
<circle class="b" cx="148" cy="480" r="5"/><circle class="b" cx="245" cy="585" r="4"/><circle class="b" cx="458" cy="530" r="4"/>
<path class="c" d="M245 585 L350 618"/>
<path class="t" d="M262 685 L275 680 L290 660"/>
<path class="c" d="M275 75 L412 112"/>
<path class="t" d="M458 530 L470 546"/>
<path class="c" d="M520 570 L555 595"/>
</g>
<g transform="translate(700 470) scale(0.27624)">
<path class="k" d="M-89 289 L-36 311 L55 366 L404 35 L421 37 L438 54"/>
<path class="k" d="M-100 306 L-36 333 L60 392 Q75 401 90 391 L421 57"/>
<path class="t" d="M-92 295 L-36 318 L58 375 L66 378 L410 44"/>
<path class="t" d="M-96 300 L-36 326 L60 384 Q72 390 82 383 L416 50"/>
<path class="k" d="M350 100 L365 88 M330 122 L345 110 M372 78 L385 68"/>
<path class="o" d="M149 197 L178 177 L250 200 L215 220 L204 246 L178 240 L164 217 Z"/>
<path class="t" d="M149 197 L215 220 M164 217 L204 228"/>
<path class="f" d="M172 190 L185 186 L186 196 L174 198 Z"/>
<path class="o" d="M436 50 L446 95 L438 180 L420 298 L335 292 L320 185"/>
<path class="o" d="M410 65 L376 290"/>
<ellipse class="b" cx="322" cy="178" rx="9.1" ry="12.5" transform="rotate(20 322 178)"/>
<ellipse class="b" cx="108" cy="382" rx="9.1" ry="12.5" transform="rotate(20 108 382)"/>
<ellipse class="b" cx="432" cy="108" rx="4" ry="7"/><ellipse class="b" cx="436" cy="185" rx="3" ry="6"/>
<circle class="b" cx="335" cy="288" r="4"/><circle class="b" cx="410" cy="296" r="4"/>
<path class="o" d="M335 292 L265 305 L215 440 L265 640 L255 660"/>
<path class="t" d="M155 320 L160 680 M148 330 L175 682"/>
<path class="k" d="M0 715 L160 680 L255 655"/>
<path class="o" d="M0 728 L165 690 L262 662"/>
<path class="t" d="M112 388 L300 446 M110 396 L296 454"/>
<path class="c" d="M330 180 L505 230"/>
<path class="c" d="M230 365 L315 383"/>
<path class="c" d="M240 575 L285 588"/>
<path class="c" d="M195 635 L325 662"/>
<circle class="b" cx="230" cy="363" r="4"/>
<circle class="b" cx="235" cy="573" r="4"/>
<circle class="b" cx="195" cy="635" r="4"/>
</g>
<text class="n" transform="translate(606.3 531.06) scale(0.677 1)" font-size="18.6">10</text>
<text class="n" transform="translate(660.7 545.56) scale(0.677 1)" font-size="18.6">7</text>
<text class="n" transform="translate(774.6 509.56) scale(0.677 1)" font-size="18.6">11</text>
<text class="n" transform="translate(884.5 541.06) scale(0.677 1)" font-size="18.6">12</text>
<text class="n" transform="translate(861.6 561.36) scale(0.677 1)" font-size="18.6">10</text>
<text class="n" transform="translate(831.8 583.06) scale(0.677 1)" font-size="18.6">10</text>
<text class="n" transform="translate(796 627.56) scale(0.677 1)" font-size="18.6">12</text>
<text class="n" transform="translate(820.7 638.86) scale(0.677 1)" font-size="18.6">10</text>
<text class="n" transform="translate(832.6 660.06) scale(0.677 1)" font-size="18.6">10</text>
<text class="n" transform="translate(533 644.06) scale(0.677 1)" font-size="18.6">9</text>
<text class="n" transform="translate(584.2 723.56) scale(0.677 1)" font-size="18.6">10</text>
<text class="n" transform="translate(672.6 726.06) scale(0.677 1)" font-size="18.6">10</text>
<path class="l" d="M606.5 532 L606.5 558"/>
<path class="l" d="M655 538.5 L616 538.5"/>
<path class="l" d="M767 502.5 L754 502.5"/>
<path class="l" d="M875.5 533.5 L842 533.5"/>
<path class="l" d="M853 554.5 L823 554.5"/>
<path class="l" d="M823 575.5 L792 575.5"/>
<path class="l" d="M794 612 L783.5 595"/>
<path class="l" d="M795 612 L797 597"/>
<path class="l" d="M812 632.5 L783 632.5"/>
<path class="l" d="M824 653.5 L795 653.5"/>
<path class="l" d="M538 635.5 L573 635.5"/>
<path class="l" d="M584.2 708 L582.5 684"/>
<path class="l" d="M670 710.5 L639.5 692.5"/>
<path class="l" d="M670 710.5 L621.5 701.5"/>
<path class="l" d="M670 710.5 L694 686"/>
<rect class="b" x="609" y="536" width="7" height="6.5" rx="1.5"/>
<path class="b" d="M748.4 500.4h5.6v3h-1.6v4.6h-2.4v-4.6h-1.6z"/>
<path class="t" d="M751.2 506 L751.2 518"/>
<g transform="translate(606.3 560.8) rotate(20)"><ellipse class="b" cx="-0.99" cy="0" rx="2.31" ry="2.53"/><rect class="b" x="0" y="-1.76" width="3.74" height="3.52" rx="1.10"/></g>
<g transform="translate(581.5 680.5) rotate(20)"><ellipse class="b" cx="-0.99" cy="0" rx="2.31" ry="2.53"/><rect class="b" x="0" y="-1.76" width="3.74" height="3.52" rx="1.10"/></g>
<g transform="translate(638.5 691.8) rotate(20)"><ellipse class="b" cx="-0.99" cy="0" rx="2.31" ry="2.53"/><rect class="b" x="0" y="-1.76" width="3.74" height="3.52" rx="1.10"/></g>
<g transform="translate(621 701) rotate(20)"><ellipse class="b" cx="-0.99" cy="0" rx="2.31" ry="2.53"/><rect class="b" x="0" y="-1.76" width="3.74" height="3.52" rx="1.10"/></g>
<g transform="translate(694.2 685.2) rotate(20)"><ellipse class="b" cx="-0.99" cy="0" rx="2.31" ry="2.53"/><rect class="b" x="0" y="-1.76" width="3.74" height="3.52" rx="1.10"/></g>
<g transform="translate(841.5 534) rotate(20)"><ellipse class="b" cx="-0.99" cy="0" rx="2.31" ry="2.53"/><rect class="b" x="0" y="-1.76" width="3.74" height="3.52" rx="1.10"/></g>
<g transform="translate(820.8 554.3) rotate(20)"><ellipse class="b" cx="-0.99" cy="0" rx="2.31" ry="2.53"/><rect class="b" x="0" y="-1.76" width="3.74" height="3.52" rx="1.10"/></g>
<g transform="translate(789.8 576.2) rotate(20)"><ellipse class="b" cx="-0.99" cy="0" rx="2.31" ry="2.53"/><rect class="b" x="0" y="-1.76" width="3.74" height="3.52" rx="1.10"/></g>
<g transform="translate(783 594.3) rotate(20)"><ellipse class="b" cx="-0.99" cy="0" rx="2.31" ry="2.53"/><rect class="b" x="0" y="-1.76" width="3.74" height="3.52" rx="1.10"/></g>
<g transform="translate(796.7 596.2) rotate(20)"><ellipse class="b" cx="-0.99" cy="0" rx="2.31" ry="2.53"/><rect class="b" x="0" y="-1.76" width="3.74" height="3.52" rx="1.10"/></g>
<g transform="translate(780.2 632.3) rotate(20)"><ellipse class="b" cx="-0.99" cy="0" rx="2.31" ry="2.53"/><rect class="b" x="0" y="-1.76" width="3.74" height="3.52" rx="1.10"/></g>
<g transform="translate(792.5 653.7) rotate(20)"><ellipse class="b" cx="-0.99" cy="0" rx="2.31" ry="2.53"/><rect class="b" x="0" y="-1.76" width="3.74" height="3.52" rx="1.10"/></g>
<g transform="translate(855 660) scale(0.08554)">
<path d="M128 262 A304 304 0 0 1 672 262" fill="none" stroke="#1a1a1a" stroke-width="28" style="vector-effect:none"/>
<path d="M100 335 A304 304 0 0 0 700 335" fill="none" stroke="#1a1a1a" stroke-width="28" style="vector-effect:none"/>
<path class="f" d="M408 325 L560 300 Q660 285 735 256 Q715 315 640 337 L470 365 L470 395 L650 370 Q630 420 560 440 L470 457 L470 490 L578 474 Q560 530 480 560 L408 574 Z"/>
<path class="f" d="M408 325 L560 300 Q660 285 735 256 Q715 315 640 337 L470 365 L470 395 L650 370 Q630 420 560 440 L470 457 L470 490 L578 474 Q560 530 480 560 L408 574 Z" transform="translate(800 0) scale(-1 1)"/>
</g>
<text transform="translate(928.5 688.8) scale(1.36 1)" font-size="11.8" font-weight="700" font-style="italic" fill="#1a1a1a" stroke="#1a1a1a" stroke-width=".35" style="font-family:'Liberation Sans',sans-serif">POWERSPORTS</text>
<text transform="translate(919.5 708.4) scale(1.49 1)" font-size="22.4" font-weight="700" font-style="italic" fill="#1a1a1a" stroke="#1a1a1a" stroke-width=".5" style="font-family:'Liberation Sans',sans-serif">EMPIRE</text>
<g transform="translate(30 660) scale(0.10526)">
<path class="of" d="M250 520 L432 275 L435 565 Z"/>
<path class="of" d="M222 510 L405 258 L432 272 L250 520 Z"/>
<path class="o" d="M222 510 L250 520 L435 565"/>
<path class="of" d="M435 335 L612 262 L620 385 L437 490"/>
<path class="of" d="M435 300 L585 220 L625 240 L612 262 L435 335 Z"/>
<path class="o" d="M625 240 L625 385 L620 385"/>
</g>
<text transform="translate(70 713.6) skewY(-22) scale(.58 1)" font-size="15" font-weight="700" fill="#111" stroke="#111" stroke-width=".8" style="font-family:'Liberation Serif',serif">FWD</text>
<path class="c" d="M369 365.7 L728.6 256.5 L757.3 247.5 L757.3 201.5"/>
<path class="c" d="M757.3 201.5 L778 195"/>
<path class="c" d="M415 379.6 L531.7 339.6 L916 209.5"/>
<path class="c" d="M490 356.5 L722 281.5"/>
<path class="c" d="M558.2 360.5 L945.8 227.4 L945.8 281 L976.5 270.7"/>
<path class="c" d="M572.4 361 L939.9 241 L939.9 293 L993 276.2"/>
<path class="c" d="M575 366 L805 291.5 L938 247.5"/>
</g>
</svg></body></html>
